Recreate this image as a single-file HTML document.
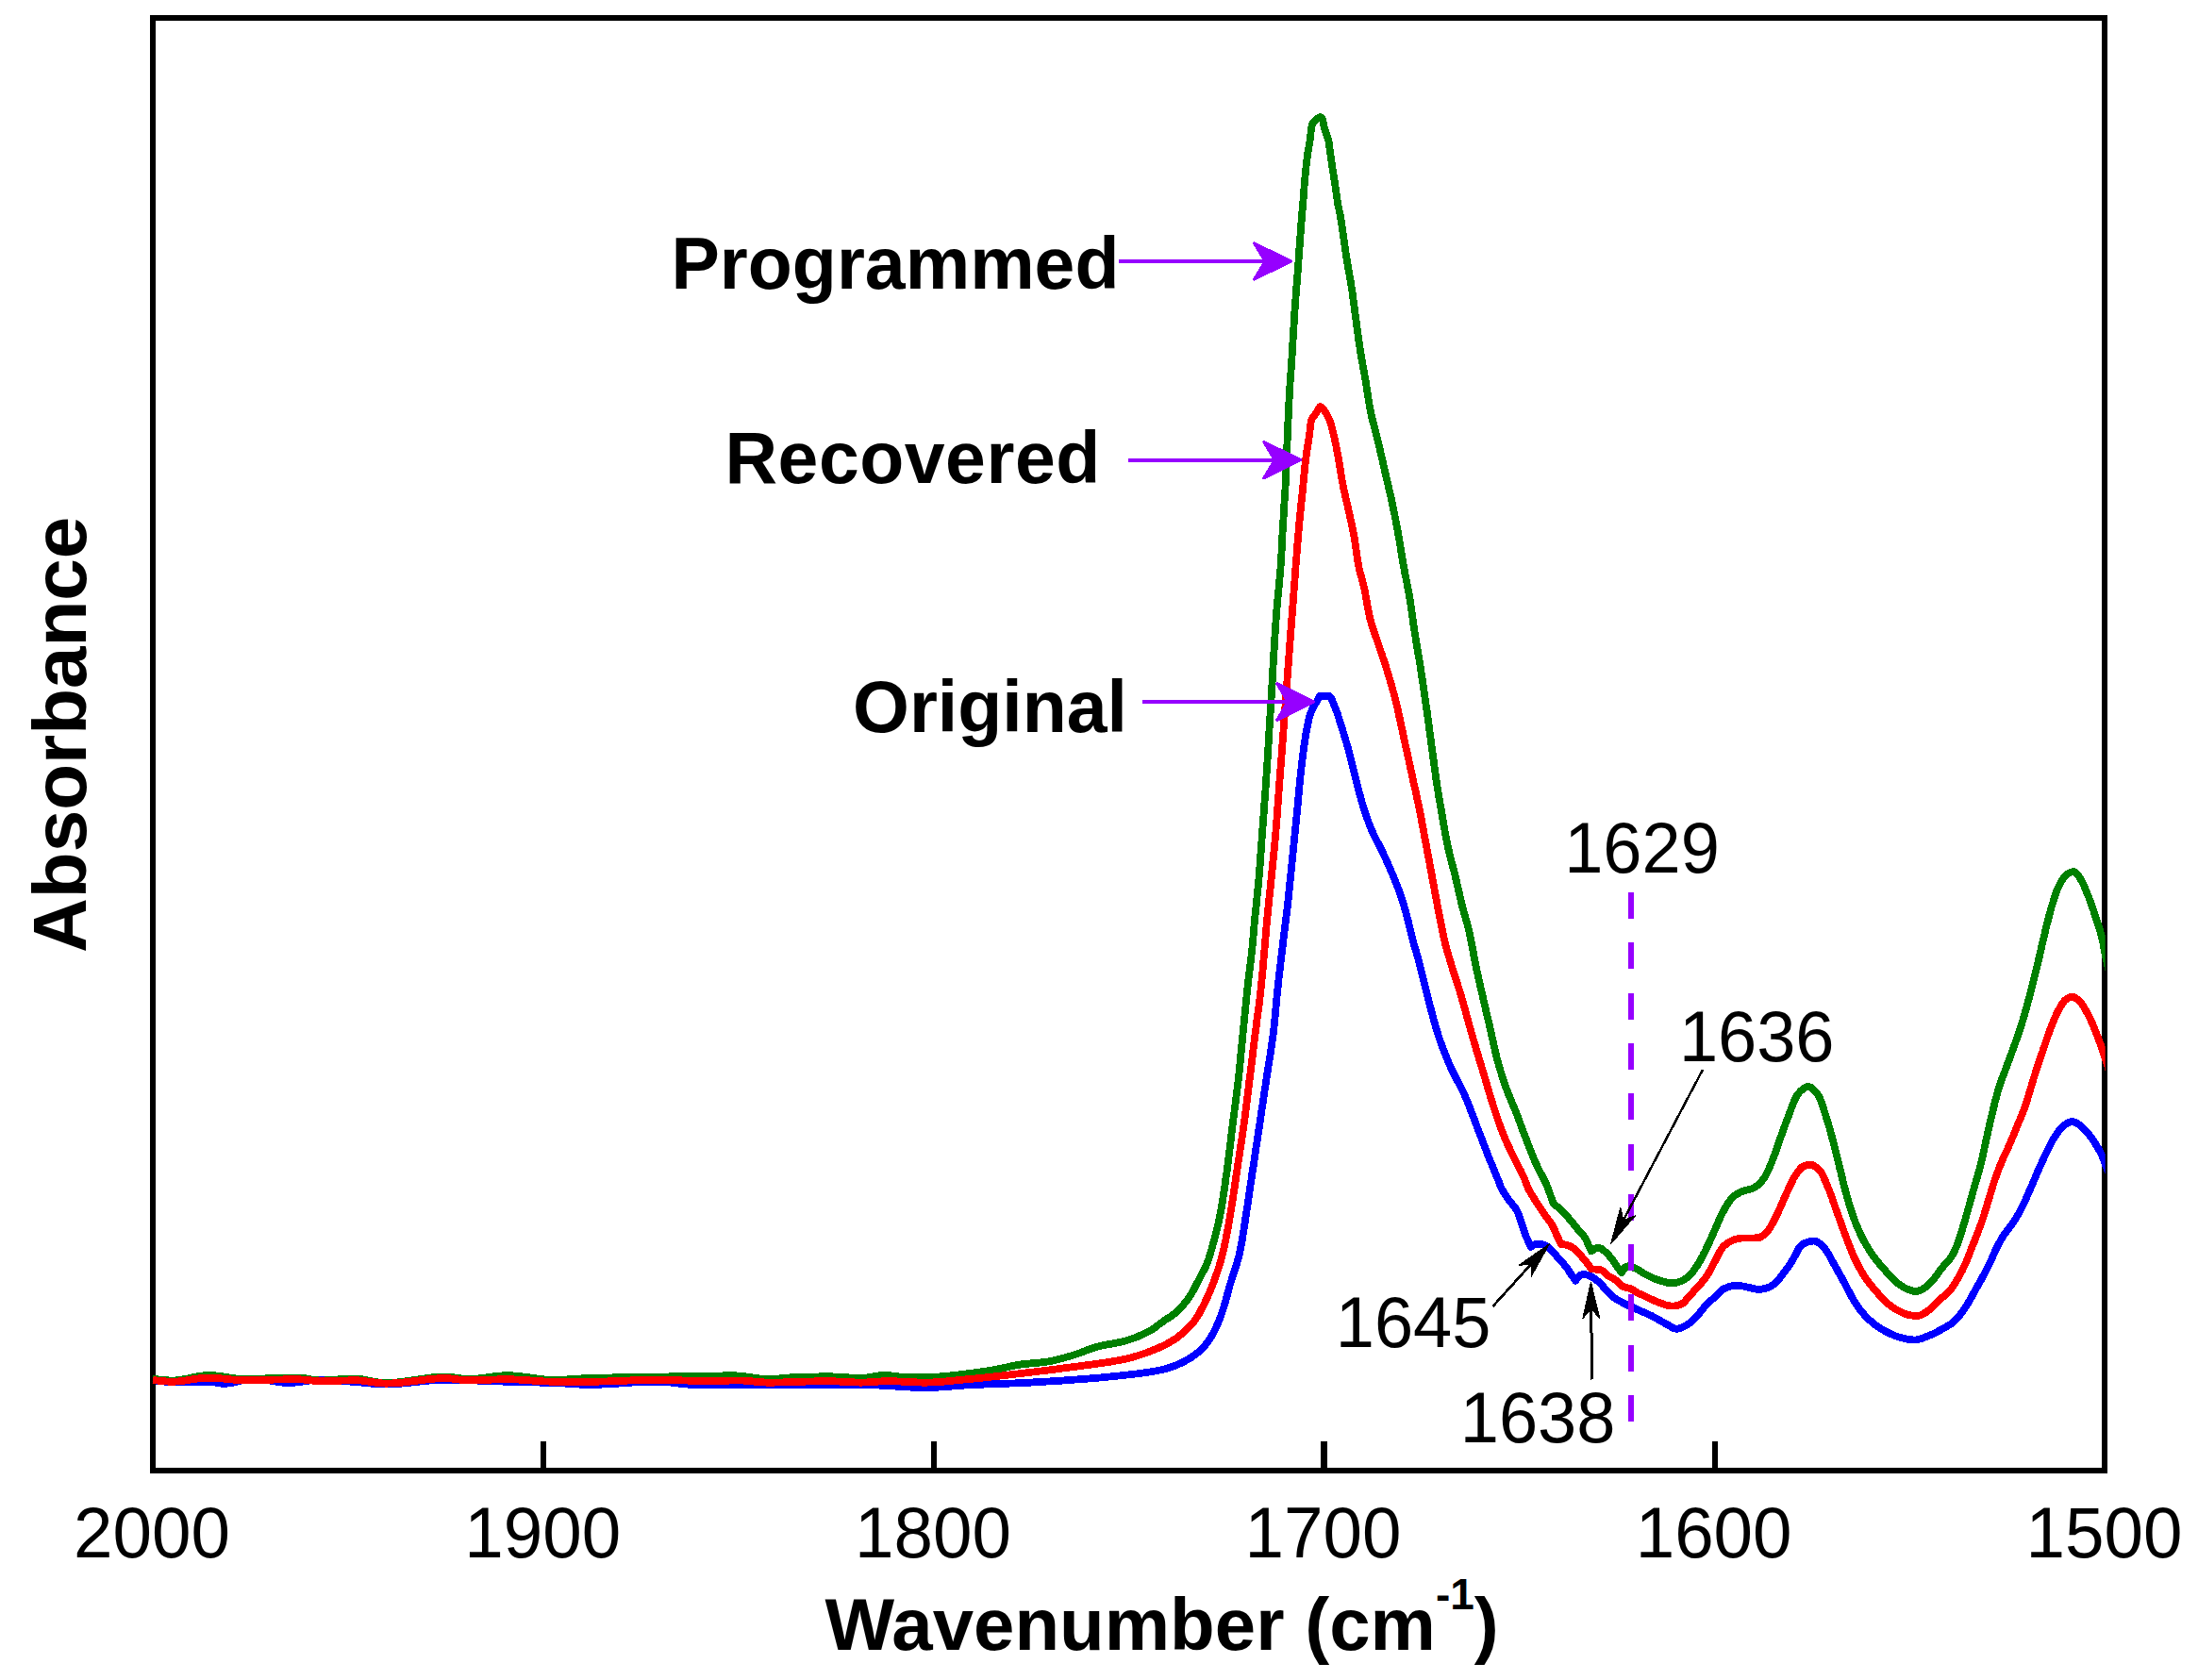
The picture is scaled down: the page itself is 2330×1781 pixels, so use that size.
<!DOCTYPE html>
<html lang="en"><head><meta charset="utf-8"><title>FTIR absorbance spectra</title>
<style>
html,body{margin:0;padding:0;background:#fff;}
body{width:2330px;height:1781px;overflow:hidden;}
svg{display:block;}
text{font-family:"Liberation Sans",Arial,Helvetica,sans-serif;fill:#000;}
.b{font-weight:bold;}
</style></head><body>
<svg width="2330" height="1781" viewBox="0 0 2330 1781" shape-rendering="crispEdges">
<rect width="2330" height="1781" fill="#fff"/>
<g id="axes" stroke="#000" stroke-width="6.2" fill="none">
<rect x="162.3" y="19.0" width="2068.7" height="1540.3"/>
<line x1="576.0" y1="1528" x2="576.0" y2="1558"/>
<line x1="990.0" y1="1528" x2="990.0" y2="1558"/>
<line x1="1403.5" y1="1528" x2="1403.5" y2="1558"/>
<line x1="1817.6" y1="1528" x2="1817.6" y2="1558"/>
</g>
<defs><clipPath id="plot"><rect x="161.8" y="19.0" width="2069.9" height="1540.3"/></clipPath></defs>
<g id="curves" clip-path="url(#plot)" fill="none" stroke-width="7.8" stroke-linejoin="round" stroke-linecap="butt">
<path id="original" stroke="#0000ff" d="M162.0 1463.2L165.0 1463.6L168.0 1463.9L171.0 1464.3L174.0 1464.6L177.0 1464.8L180.0 1464.9L182.9 1465.0L185.9 1465.0L188.9 1465.0L192.0 1464.9L195.0 1464.9L198.0 1464.9L201.0 1464.8L204.0 1464.8L207.0 1464.7L210.0 1464.7L213.0 1464.6L216.0 1464.6L219.0 1464.6L222.0 1464.6L225.0 1464.9L227.9 1465.5L230.9 1466.1L233.9 1466.6L236.9 1466.8L239.8 1466.7L242.8 1466.4L245.8 1465.9L248.7 1465.3L251.7 1464.6L254.6 1463.9L257.6 1463.2L260.6 1462.5L263.5 1462.0L266.5 1461.7L269.5 1461.5L272.4 1461.6L275.4 1461.8L278.4 1462.1L281.4 1462.6L284.4 1463.1L287.3 1463.7L290.3 1464.2L293.3 1464.8L296.3 1465.2L299.3 1465.6L302.2 1465.9L305.2 1466.0L308.2 1465.9L311.2 1465.8L314.2 1465.5L317.2 1465.1L320.2 1464.7L323.1 1464.3L326.1 1463.8L329.1 1463.4L332.1 1463.0L335.1 1462.8L338.1 1462.6L341.1 1462.5L344.1 1462.5L347.1 1462.6L350.1 1462.8L353.1 1463.0L356.1 1463.2L359.1 1463.5L362.1 1463.8L365.1 1464.0L368.1 1464.3L371.1 1464.6L374.0 1464.8L377.0 1465.1L380.0 1465.3L383.0 1465.6L386.0 1465.9L389.0 1466.2L392.0 1466.5L395.0 1466.8L398.0 1467.0L401.0 1467.2L404.0 1467.4L407.0 1467.5L410.0 1467.5L413.0 1467.4L416.0 1467.3L419.0 1467.2L422.0 1467.0L425.0 1466.7L427.9 1466.5L430.9 1466.2L433.9 1465.8L436.9 1465.5L439.9 1465.2L442.9 1464.8L445.9 1464.5L448.9 1464.2L451.9 1463.9L454.9 1463.6L457.9 1463.3L460.9 1463.1L463.9 1462.9L466.9 1462.8L469.9 1462.7L472.9 1462.7L475.9 1462.7L478.9 1462.7L481.9 1462.8L484.9 1462.9L487.9 1462.9L490.9 1463.0L493.9 1463.1L496.9 1463.2L499.9 1463.4L502.9 1463.5L505.9 1463.6L508.9 1463.7L511.9 1463.9L514.9 1464.0L517.9 1464.1L520.9 1464.2L523.9 1464.3L526.9 1464.4L529.9 1464.5L532.9 1464.6L535.9 1464.7L538.9 1464.8L541.9 1464.9L544.9 1464.9L547.9 1465.0L550.9 1465.1L553.9 1465.1L556.9 1465.2L559.9 1465.3L562.9 1465.3L565.9 1465.4L568.9 1465.5L571.9 1465.6L575.0 1465.6L578.0 1465.7L581.0 1465.8L584.0 1465.9L587.0 1466.0L590.0 1466.1L593.0 1466.3L596.0 1466.4L599.0 1466.6L602.0 1466.8L605.0 1467.0L608.0 1467.2L611.0 1467.4L614.0 1467.6L617.0 1467.7L620.0 1467.8L623.0 1467.9L626.0 1467.9L629.0 1467.9L632.0 1467.8L635.0 1467.7L638.0 1467.6L641.0 1467.5L644.0 1467.3L647.0 1467.1L650.0 1467.0L653.0 1466.8L656.0 1466.6L659.0 1466.4L662.0 1466.1L665.0 1465.9L668.0 1465.7L671.0 1465.5L674.0 1465.4L677.0 1465.2L680.0 1465.0L683.0 1464.9L686.0 1464.8L689.0 1464.7L692.0 1464.6L695.0 1464.6L698.0 1464.6L700.9 1464.7L703.9 1464.9L706.9 1465.1L709.9 1465.4L712.9 1465.8L715.9 1466.1L718.9 1466.5L721.9 1466.9L724.9 1467.2L727.9 1467.5L730.9 1467.8L733.9 1468.1L736.9 1468.2L739.9 1468.3L742.9 1468.3L745.9 1468.3L748.9 1468.3L751.9 1468.3L754.9 1468.3L757.9 1468.3L760.9 1468.3L763.9 1468.3L766.9 1468.3L769.9 1468.3L772.9 1468.3L775.9 1468.3L778.9 1468.3L781.9 1468.3L784.9 1468.3L787.9 1468.3L790.9 1468.3L793.9 1468.3L796.9 1468.3L799.9 1468.3L802.9 1468.3L805.9 1468.3L808.9 1468.3L811.9 1468.3L814.9 1468.3L817.9 1468.3L820.9 1468.3L823.9 1468.3L827.0 1468.3L830.0 1468.3L833.0 1468.3L836.0 1468.3L839.0 1468.3L842.0 1468.3L845.0 1468.3L848.0 1468.3L851.0 1468.3L854.0 1468.3L857.0 1468.3L860.0 1468.3L863.0 1468.3L866.0 1468.3L869.0 1468.3L872.0 1468.3L875.0 1468.3L878.0 1468.3L881.0 1468.3L884.0 1468.3L887.0 1468.3L890.0 1468.3L893.0 1468.3L896.0 1468.3L899.0 1468.3L902.0 1468.3L905.0 1468.3L908.0 1468.3L911.0 1468.3L914.1 1468.3L917.1 1468.3L920.1 1468.3L923.1 1468.3L926.1 1468.4L929.1 1468.5L932.1 1468.6L935.1 1468.8L938.1 1468.9L941.1 1469.1L944.1 1469.3L947.1 1469.5L950.1 1469.7L953.1 1469.9L956.1 1470.0L959.1 1470.2L962.1 1470.4L965.1 1470.6L968.1 1470.7L971.1 1470.8L974.1 1470.9L977.1 1471.0L980.1 1471.0L983.1 1471.0L986.1 1470.9L989.1 1470.8L992.1 1470.7L995.1 1470.6L998.1 1470.4L1001.1 1470.2L1004.1 1470.0L1007.1 1469.7L1010.0 1469.5L1013.0 1469.3L1016.0 1469.0L1019.0 1468.8L1022.0 1468.6L1025.0 1468.4L1028.0 1468.3L1031.0 1468.1L1034.0 1468.0L1037.0 1467.9L1040.0 1467.8L1043.0 1467.6L1046.0 1467.5L1049.0 1467.4L1052.0 1467.3L1055.0 1467.2L1058.0 1467.1L1061.1 1467.0L1064.1 1466.9L1067.1 1466.8L1070.1 1466.6L1073.1 1466.5L1076.1 1466.4L1079.1 1466.2L1082.1 1466.1L1085.1 1466.0L1088.1 1465.8L1091.1 1465.7L1094.1 1465.5L1097.1 1465.3L1100.1 1465.2L1103.1 1465.0L1106.0 1464.8L1109.0 1464.6L1112.0 1464.5L1115.0 1464.3L1118.0 1464.1L1121.0 1463.9L1124.0 1463.7L1127.0 1463.5L1130.0 1463.3L1133.0 1463.1L1136.0 1462.9L1139.0 1462.6L1142.0 1462.4L1145.0 1462.2L1148.0 1462.0L1151.0 1461.7L1154.0 1461.5L1157.0 1461.2L1160.0 1461.0L1163.0 1460.7L1166.0 1460.5L1169.0 1460.2L1171.9 1459.9L1174.9 1459.6L1177.9 1459.3L1180.9 1459.0L1183.9 1458.7L1186.9 1458.4L1189.9 1458.1L1192.9 1457.7L1195.8 1457.4L1198.8 1457.1L1201.8 1456.7L1204.8 1456.4L1207.9 1456.0L1210.9 1455.6L1213.8 1455.2L1216.8 1454.7L1219.8 1454.3L1222.8 1453.8L1225.7 1453.3L1228.6 1452.7L1231.5 1452.1L1234.4 1451.4L1237.3 1450.6L1240.2 1449.7L1243.1 1448.7L1245.9 1447.6L1248.7 1446.4L1251.5 1445.2L1254.2 1443.9L1256.9 1442.5L1259.4 1441.1L1261.9 1439.6L1264.4 1437.9L1266.9 1436.1L1269.3 1434.2L1271.6 1432.1L1273.8 1430.0L1275.9 1427.8L1277.9 1425.6L1279.7 1423.3L1281.4 1421.0L1283.0 1418.5L1284.6 1415.9L1286.1 1413.2L1287.5 1410.5L1288.8 1407.7L1290.1 1405.0L1291.3 1402.2L1292.5 1399.5L1293.6 1396.7L1294.6 1393.9L1295.6 1391.0L1296.5 1388.1L1297.4 1385.3L1298.3 1382.4L1299.1 1379.5L1299.9 1376.6L1300.7 1373.7L1301.4 1370.8L1302.2 1367.9L1303.0 1365.0L1303.8 1362.1L1304.7 1359.2L1305.7 1356.4L1306.6 1353.5L1307.5 1350.7L1308.5 1347.8L1309.4 1344.9L1310.3 1342.1L1311.2 1339.2L1312.1 1336.3L1312.8 1333.4L1313.6 1330.5L1314.2 1327.6L1314.8 1324.7L1315.4 1321.8L1316.0 1318.8L1316.5 1315.9L1317.0 1312.9L1317.5 1309.9L1317.9 1307.0L1318.4 1304.0L1318.9 1301.0L1319.3 1298.0L1319.8 1295.1L1320.2 1292.1L1320.7 1289.1L1321.1 1286.1L1321.6 1283.2L1322.1 1280.2L1322.5 1277.2L1323.0 1274.3L1323.4 1271.3L1323.9 1268.3L1324.3 1265.3L1324.7 1262.4L1325.2 1259.4L1325.6 1256.4L1326.0 1253.5L1326.5 1250.5L1326.9 1247.5L1327.3 1244.5L1327.8 1241.6L1328.2 1238.6L1328.7 1235.6L1329.1 1232.7L1329.6 1229.7L1330.0 1226.7L1330.5 1223.8L1330.9 1220.8L1331.4 1217.8L1331.8 1214.8L1332.3 1211.9L1332.7 1208.9L1333.2 1205.9L1333.6 1203.0L1334.1 1200.0L1334.5 1197.0L1335.0 1194.1L1335.4 1191.1L1335.9 1188.1L1336.3 1185.2L1336.7 1182.2L1337.2 1179.2L1337.6 1176.2L1338.1 1173.3L1338.5 1170.3L1339.0 1167.3L1339.4 1164.4L1339.8 1161.4L1340.3 1158.4L1340.7 1155.4L1341.2 1152.5L1341.6 1149.5L1342.1 1146.5L1342.5 1143.6L1342.9 1140.6L1343.4 1137.6L1343.9 1134.7L1344.3 1131.7L1344.8 1128.7L1345.3 1125.8L1345.8 1122.8L1346.3 1119.8L1346.7 1116.9L1347.2 1113.9L1347.6 1110.9L1348.1 1107.9L1348.5 1105.0L1348.9 1102.0L1349.3 1099.0L1349.7 1096.1L1350.0 1093.1L1350.4 1090.1L1350.7 1087.1L1351.0 1084.1L1351.3 1081.1L1351.6 1078.1L1351.9 1075.1L1352.2 1072.2L1352.4 1069.2L1352.7 1066.2L1353.0 1063.2L1353.3 1060.2L1353.5 1057.2L1353.8 1054.2L1354.1 1051.2L1354.4 1048.2L1354.8 1045.2L1355.1 1042.3L1355.4 1039.3L1355.7 1036.3L1356.1 1033.3L1356.4 1030.3L1356.8 1027.3L1357.1 1024.4L1357.5 1021.4L1357.8 1018.4L1358.2 1015.4L1358.5 1012.4L1358.9 1009.4L1359.2 1006.5L1359.6 1003.5L1359.9 1000.5L1360.3 997.5L1360.7 994.5L1361.0 991.5L1361.4 988.6L1361.8 985.6L1362.1 982.6L1362.5 979.6L1362.9 976.6L1363.2 973.7L1363.6 970.7L1364.0 967.7L1364.3 964.7L1364.7 961.7L1365.0 958.8L1365.3 955.8L1365.7 952.8L1366.0 949.8L1366.3 946.8L1366.6 943.8L1366.9 940.8L1367.2 937.8L1367.5 934.9L1367.8 931.9L1368.1 928.9L1368.4 925.9L1368.7 922.9L1369.0 919.9L1369.3 916.9L1369.6 913.9L1369.9 910.9L1370.2 908.0L1370.5 905.0L1370.8 902.0L1371.1 899.0L1371.4 896.0L1371.7 893.0L1372.0 890.0L1372.3 887.0L1372.6 884.1L1372.9 881.1L1373.2 878.1L1373.5 875.1L1373.8 872.1L1374.1 869.1L1374.4 866.1L1374.7 863.1L1375.0 860.1L1375.3 857.2L1375.6 854.2L1375.8 851.2L1376.1 848.2L1376.4 845.2L1376.7 842.2L1377.0 839.2L1377.2 836.2L1377.5 833.2L1377.8 830.2L1378.1 827.3L1378.4 824.3L1378.7 821.3L1379.1 818.3L1379.4 815.3L1379.7 812.3L1380.1 809.3L1380.4 806.4L1380.8 803.4L1381.2 800.4L1381.5 797.4L1381.9 794.4L1382.3 791.4L1382.8 788.5L1383.2 785.5L1383.7 782.5L1384.1 779.6L1384.6 776.6L1385.2 773.6L1385.7 770.7L1386.3 767.7L1386.9 764.7L1387.6 761.8L1388.4 759.0L1389.3 756.2L1390.4 753.4L1391.7 750.7L1393.2 748.0L1394.7 745.4L1396.3 742.8L1397.8 739.7L1399.6 737.6L1402.4 737.6L1405.8 737.6L1408.4 737.6L1410.2 738.8L1411.8 741.4L1413.2 744.8L1414.5 748.2L1415.6 751.0L1416.7 753.8L1417.8 756.6L1418.7 759.5L1419.6 762.4L1420.5 765.3L1421.4 768.1L1422.3 771.0L1423.2 773.9L1424.1 776.7L1425.0 779.6L1425.8 782.5L1426.7 785.4L1427.5 788.3L1428.4 791.1L1429.2 794.0L1430.0 796.9L1430.7 799.8L1431.5 802.7L1432.2 805.7L1432.9 808.6L1433.6 811.5L1434.3 814.4L1435.1 817.3L1435.8 820.2L1436.5 823.2L1437.3 826.1L1438.0 829.0L1438.8 831.9L1439.5 834.8L1440.2 837.7L1441.0 840.6L1441.8 843.5L1442.6 846.4L1443.4 849.3L1444.2 852.2L1445.1 855.1L1446.0 857.9L1446.9 860.8L1447.9 863.6L1448.9 866.5L1449.9 869.3L1450.9 872.1L1452.0 874.9L1453.1 877.7L1454.3 880.5L1455.5 883.2L1456.8 885.9L1458.1 888.6L1459.5 891.3L1460.9 893.9L1462.3 896.6L1463.7 899.3L1465.0 902.0L1466.3 904.7L1467.5 907.4L1468.8 910.2L1470.0 912.9L1471.3 915.6L1472.5 918.4L1473.7 921.1L1474.8 923.9L1476.0 926.7L1477.2 929.4L1478.4 932.2L1479.5 935.0L1480.6 937.8L1481.7 940.6L1482.8 943.4L1483.8 946.2L1484.8 949.0L1485.7 951.9L1486.6 954.7L1487.5 957.6L1488.3 960.5L1489.2 963.4L1490.0 966.3L1490.8 969.2L1491.6 972.1L1492.4 975.0L1493.1 977.9L1493.8 980.8L1494.5 983.7L1495.2 986.6L1496.0 989.6L1496.7 992.5L1497.4 995.4L1498.1 998.3L1498.9 1001.2L1499.7 1004.1L1500.6 1007.0L1501.4 1009.9L1502.3 1012.7L1503.1 1015.6L1503.9 1018.5L1504.7 1021.4L1505.4 1024.3L1506.2 1027.2L1506.9 1030.2L1507.6 1033.1L1508.3 1036.0L1509.0 1038.9L1509.7 1041.8L1510.4 1044.8L1511.1 1047.7L1511.9 1050.6L1512.6 1053.5L1513.3 1056.4L1514.1 1059.3L1514.8 1062.2L1515.6 1065.1L1516.4 1068.0L1517.1 1070.9L1517.9 1073.9L1518.7 1076.8L1519.5 1079.7L1520.3 1082.6L1521.1 1085.5L1521.9 1088.3L1522.8 1091.2L1523.6 1094.1L1524.5 1096.9L1525.5 1099.8L1526.4 1102.6L1527.4 1105.5L1528.4 1108.3L1529.5 1111.1L1530.5 1113.9L1531.6 1116.7L1532.7 1119.5L1533.9 1122.3L1535.0 1125.1L1536.2 1127.9L1537.4 1130.6L1538.6 1133.3L1539.9 1136.0L1541.3 1138.7L1542.6 1141.4L1544.1 1144.1L1545.5 1146.7L1546.9 1149.4L1548.3 1152.0L1549.6 1154.7L1550.9 1157.4L1552.2 1160.1L1553.4 1162.9L1554.6 1165.6L1555.7 1168.4L1556.9 1171.2L1558.0 1174.0L1559.0 1176.8L1560.1 1179.6L1561.2 1182.4L1562.2 1185.2L1563.3 1188.0L1564.4 1190.8L1565.4 1193.7L1566.5 1196.5L1567.6 1199.3L1568.7 1202.1L1569.8 1204.9L1570.8 1207.7L1571.9 1210.5L1573.0 1213.3L1574.0 1216.1L1575.1 1218.9L1576.2 1221.7L1577.3 1224.5L1578.4 1227.3L1579.5 1230.1L1580.7 1232.8L1581.8 1235.6L1583.0 1238.4L1584.1 1241.2L1585.2 1244.0L1586.4 1246.7L1587.5 1249.5L1588.7 1252.3L1589.7 1255.1L1590.8 1257.9L1592.1 1260.6L1593.6 1263.2L1595.2 1265.7L1596.9 1268.2L1598.6 1270.7L1600.3 1273.2L1602.2 1275.6L1604.2 1277.9L1606.0 1280.3L1607.7 1282.7L1609.0 1285.4L1610.1 1288.1L1611.0 1291.0L1612.0 1293.9L1612.9 1296.8L1613.9 1299.6L1614.8 1302.5L1615.7 1305.3L1616.7 1308.2L1617.8 1311.0L1619.0 1313.7L1620.2 1316.5L1621.5 1319.2L1622.8 1321.9L1625.6 1320.0L1628.5 1318.9L1631.5 1318.8L1634.6 1319.3L1637.6 1320.2L1640.2 1321.7L1642.7 1323.8L1645.0 1325.9L1647.2 1328.1L1649.2 1330.5L1651.2 1333.0L1653.3 1335.3L1655.5 1337.6L1657.6 1339.9L1659.5 1342.3L1661.4 1344.8L1663.1 1347.4L1664.8 1350.0L1666.6 1352.6L1668.4 1355.2L1670.1 1357.8L1672.2 1354.7L1674.4 1352.4L1676.9 1351.2L1679.6 1351.1L1682.6 1351.7L1685.4 1352.7L1688.1 1354.0L1690.6 1355.8L1693.0 1357.6L1695.3 1359.5L1697.4 1361.7L1699.4 1363.9L1701.5 1366.1L1703.6 1368.3L1705.7 1370.5L1707.8 1372.7L1709.9 1374.7L1712.3 1376.5L1714.8 1378.1L1717.5 1379.6L1720.1 1381.0L1722.8 1382.4L1725.5 1383.7L1728.3 1384.9L1731.0 1386.1L1733.7 1387.4L1736.5 1388.6L1739.2 1389.8L1742.0 1391.0L1744.7 1392.2L1747.5 1393.4L1750.2 1394.7L1752.9 1396.1L1755.5 1397.5L1758.1 1399.0L1760.7 1400.5L1763.3 1402.0L1765.9 1403.5L1768.6 1404.9L1771.3 1406.5L1774.0 1408.0L1776.8 1408.8L1779.7 1408.5L1782.6 1407.5L1785.4 1406.1L1787.9 1404.7L1790.4 1403.1L1792.7 1401.1L1794.9 1399.0L1797.1 1396.8L1799.2 1394.6L1801.3 1392.5L1803.2 1390.1L1805.0 1387.8L1806.9 1385.4L1808.9 1383.1L1811.0 1381.0L1813.2 1379.0L1815.5 1377.1L1817.8 1375.1L1820.0 1373.0L1822.1 1370.7L1824.3 1368.6L1826.6 1366.8L1829.2 1365.5L1832.0 1364.2L1835.0 1363.4L1837.9 1363.3L1840.9 1363.3L1844.0 1363.3L1846.9 1363.4L1849.9 1363.9L1852.8 1364.7L1855.8 1365.3L1858.7 1366.1L1861.7 1366.7L1864.6 1366.9L1867.7 1366.6L1870.7 1366.0L1873.5 1365.3L1876.2 1364.1L1878.8 1362.5L1881.3 1360.6L1883.5 1358.7L1885.5 1356.5L1887.4 1354.1L1889.2 1351.7L1891.0 1349.3L1892.8 1346.9L1894.6 1344.4L1896.3 1341.9L1898.0 1339.5L1899.6 1336.9L1901.2 1334.3L1902.7 1331.5L1904.2 1328.5L1905.6 1325.6L1907.2 1322.9L1908.9 1320.7L1910.8 1319.1L1913.3 1317.9L1916.2 1316.8L1919.4 1315.9L1922.3 1315.5L1925.1 1315.9L1927.8 1317.4L1930.3 1319.5L1932.5 1321.5L1934.4 1323.6L1936.2 1326.0L1937.8 1328.5L1939.3 1331.2L1940.8 1334.0L1942.2 1336.7L1943.7 1339.4L1945.2 1342.0L1946.7 1344.6L1948.1 1347.2L1949.6 1349.9L1951.0 1352.5L1952.5 1355.1L1953.9 1357.8L1955.4 1360.4L1956.8 1363.0L1958.2 1365.7L1959.6 1368.4L1961.0 1371.1L1962.4 1373.7L1963.9 1376.4L1965.4 1379.0L1966.9 1381.5L1968.6 1384.0L1970.3 1386.4L1972.1 1388.8L1974.0 1391.2L1976.0 1393.5L1978.0 1395.8L1980.2 1397.9L1982.3 1399.9L1984.6 1401.8L1986.9 1403.7L1989.3 1405.5L1991.8 1407.2L1994.4 1408.9L1997.0 1410.4L1999.6 1411.8L2002.3 1413.2L2005.0 1414.4L2007.8 1415.7L2010.7 1416.8L2013.5 1417.7L2016.4 1418.4L2019.3 1419.1L2022.3 1419.7L2025.3 1420.2L2028.3 1420.5L2031.2 1420.4L2034.1 1419.8L2037.1 1418.9L2039.9 1417.9L2042.8 1416.8L2045.5 1415.7L2048.3 1414.5L2051.0 1413.2L2053.7 1411.8L2056.3 1410.3L2058.9 1408.8L2061.6 1407.4L2064.2 1405.9L2066.9 1404.3L2069.3 1402.7L2071.6 1400.8L2073.7 1398.8L2075.7 1396.5L2077.6 1394.1L2079.5 1391.7L2081.2 1389.3L2082.9 1386.8L2084.5 1384.2L2086.1 1381.7L2087.6 1379.1L2089.1 1376.5L2090.6 1373.9L2092.0 1371.2L2093.4 1368.6L2094.8 1365.9L2096.3 1363.3L2097.8 1360.7L2099.3 1358.1L2100.8 1355.5L2102.2 1352.8L2103.6 1350.2L2105.0 1347.5L2106.4 1344.9L2107.7 1342.2L2109.1 1339.5L2110.3 1336.8L2111.6 1334.0L2112.7 1331.2L2113.9 1328.5L2115.2 1325.7L2116.5 1323.0L2117.8 1320.4L2119.2 1317.7L2120.7 1315.1L2122.2 1312.5L2123.8 1309.9L2125.5 1307.5L2127.3 1305.1L2129.2 1302.7L2131.0 1300.3L2132.8 1297.9L2134.5 1295.4L2136.1 1292.9L2137.7 1290.3L2139.2 1287.7L2140.7 1285.1L2142.1 1282.5L2143.5 1279.8L2144.8 1277.1L2146.1 1274.4L2147.3 1271.7L2148.5 1268.9L2149.7 1266.2L2150.9 1263.4L2152.1 1260.7L2153.3 1257.9L2154.5 1255.1L2155.7 1252.4L2156.9 1249.6L2158.0 1246.8L2159.2 1244.1L2160.4 1241.3L2161.6 1238.6L2162.8 1235.8L2164.1 1233.1L2165.3 1230.4L2166.6 1227.6L2167.9 1224.9L2169.2 1222.2L2170.5 1219.5L2171.8 1216.8L2173.2 1214.1L2174.6 1211.4L2176.0 1208.8L2177.5 1206.2L2179.1 1203.7L2180.8 1201.2L2182.7 1198.7L2184.6 1196.3L2186.7 1194.1L2189.0 1192.3L2191.5 1190.7L2194.4 1189.4L2197.2 1189.0L2200.0 1189.9L2202.7 1191.5L2205.2 1193.3L2207.5 1195.1L2209.7 1197.3L2211.7 1199.5L2213.7 1201.8L2215.5 1204.2L2217.3 1206.6L2219.0 1209.1L2220.7 1211.6L2222.2 1214.2L2223.8 1216.8L2225.3 1219.4L2226.7 1222.0L2228.0 1224.7L2229.2 1227.5L2230.3 1230.3L2231.3 1233.1L2232.3 1235.9L2233.5 1238.7L2234.6 1241.5L2235.8 1244.2L2237.0 1247.0"/>
<path id="programmed" stroke="#008000" d="M162.0 1461.5L165.0 1462.0L168.0 1462.4L171.0 1462.8L174.0 1463.1L177.0 1463.3L179.9 1463.5L182.9 1463.5L185.9 1463.4L188.9 1463.1L191.8 1462.7L194.8 1462.2L197.8 1461.7L200.7 1461.0L203.7 1460.4L206.7 1459.8L209.6 1459.2L212.6 1458.7L215.6 1458.3L218.6 1458.1L221.5 1458.0L224.5 1458.1L227.5 1458.3L230.5 1458.6L233.5 1459.0L236.4 1459.4L239.4 1459.9L242.4 1460.4L245.4 1460.8L248.4 1461.2L251.4 1461.6L254.4 1461.8L257.3 1462.0L260.3 1462.0L263.3 1462.0L266.3 1461.9L269.3 1461.9L272.3 1461.8L275.3 1461.7L278.3 1461.5L281.3 1461.4L284.3 1461.3L287.4 1461.2L290.4 1461.0L293.4 1460.9L296.4 1460.8L299.4 1460.7L302.4 1460.6L305.4 1460.5L308.4 1460.4L311.4 1460.4L314.3 1460.4L317.3 1460.5L320.3 1460.8L323.3 1461.2L326.3 1461.7L329.3 1462.3L332.2 1462.7L335.2 1463.1L338.2 1463.4L341.2 1463.5L344.2 1463.4L347.2 1463.3L350.2 1463.1L353.2 1462.9L356.2 1462.6L359.2 1462.3L362.2 1462.1L365.2 1461.9L368.2 1461.7L371.1 1461.5L374.1 1461.5L377.1 1461.6L380.1 1461.9L383.1 1462.2L386.1 1462.7L389.0 1463.3L392.0 1463.8L395.0 1464.4L398.0 1464.9L400.9 1465.4L403.9 1465.7L406.9 1466.0L409.9 1466.0L412.8 1465.9L415.8 1465.8L418.8 1465.6L421.8 1465.3L424.8 1465.0L427.8 1464.6L430.7 1464.2L433.7 1463.8L436.7 1463.4L439.7 1462.9L442.7 1462.5L445.7 1462.0L448.7 1461.6L451.7 1461.2L454.6 1460.8L457.6 1460.4L460.6 1460.2L463.6 1459.9L466.6 1459.7L469.6 1459.6L472.6 1459.6L475.6 1459.7L478.5 1460.0L481.5 1460.4L484.5 1460.8L487.5 1461.2L490.5 1461.6L493.5 1461.9L496.5 1462.0L499.5 1462.0L502.4 1461.8L505.4 1461.6L508.4 1461.3L511.4 1460.9L514.4 1460.5L517.4 1460.1L520.4 1459.7L523.4 1459.3L526.4 1458.9L529.3 1458.6L532.3 1458.4L535.3 1458.2L538.3 1458.2L541.3 1458.3L544.3 1458.4L547.3 1458.6L550.3 1458.9L553.2 1459.3L556.2 1459.7L559.2 1460.1L562.2 1460.5L565.2 1460.9L568.2 1461.4L571.2 1461.7L574.2 1462.1L577.1 1462.4L580.1 1462.6L583.1 1462.8L586.1 1462.9L589.1 1462.9L592.1 1462.8L595.1 1462.7L598.1 1462.6L601.1 1462.4L604.1 1462.2L607.1 1462.0L610.1 1461.8L613.1 1461.6L616.1 1461.4L619.1 1461.2L622.1 1461.1L625.1 1461.0L628.1 1460.9L631.1 1460.8L634.1 1460.8L637.1 1460.7L640.1 1460.6L643.1 1460.5L646.1 1460.5L649.1 1460.4L652.1 1460.3L655.1 1460.3L658.1 1460.2L661.1 1460.2L664.1 1460.1L667.1 1460.1L670.1 1460.0L673.1 1460.0L676.1 1459.9L679.1 1459.9L682.1 1459.8L685.1 1459.8L688.1 1459.7L691.1 1459.7L694.1 1459.6L697.1 1459.6L700.1 1459.5L703.1 1459.5L706.1 1459.4L709.1 1459.4L712.1 1459.3L715.1 1459.3L718.1 1459.3L721.1 1459.2L724.1 1459.2L727.1 1459.1L730.1 1459.1L733.1 1459.1L736.1 1459.0L739.1 1459.0L742.1 1458.9L745.1 1458.9L748.1 1458.8L751.1 1458.8L754.1 1458.7L757.1 1458.6L760.1 1458.6L763.1 1458.5L766.1 1458.4L769.1 1458.3L772.1 1458.2L775.1 1458.2L778.1 1458.2L781.1 1458.4L784.1 1458.6L787.1 1458.9L790.1 1459.3L793.1 1459.7L796.0 1460.2L799.0 1460.6L802.0 1461.0L805.0 1461.4L808.0 1461.7L811.0 1461.9L814.0 1462.0L816.9 1462.0L819.9 1461.8L822.9 1461.6L825.9 1461.4L828.9 1461.1L831.9 1460.8L834.9 1460.6L837.9 1460.3L840.9 1460.1L843.9 1460.0L846.9 1459.9L849.9 1459.8L852.9 1459.7L855.9 1459.6L858.9 1459.6L861.9 1459.5L864.9 1459.4L867.9 1459.4L870.9 1459.3L873.9 1459.3L876.9 1459.3L879.9 1459.3L882.9 1459.4L885.9 1459.5L888.9 1459.7L891.9 1459.9L894.9 1460.1L897.9 1460.3L900.9 1460.5L903.9 1460.6L906.9 1460.8L909.9 1460.9L912.9 1460.9L915.9 1460.8L918.9 1460.5L921.8 1460.0L924.8 1459.5L927.8 1458.9L930.8 1458.5L933.7 1458.1L936.7 1457.9L939.7 1458.0L942.7 1458.2L945.7 1458.5L948.7 1458.9L951.7 1459.3L954.7 1459.6L957.6 1459.9L960.6 1460.1L963.6 1460.1L966.6 1460.1L969.6 1460.1L972.6 1460.1L975.6 1460.1L978.6 1460.1L981.6 1460.1L984.6 1460.1L987.6 1460.0L990.6 1459.8L993.6 1459.7L996.6 1459.4L999.6 1459.2L1002.6 1458.9L1005.6 1458.6L1008.6 1458.3L1011.6 1457.9L1014.6 1457.6L1017.5 1457.2L1020.5 1456.8L1023.5 1456.5L1026.5 1456.1L1029.5 1455.8L1032.4 1455.4L1035.4 1455.0L1038.4 1454.6L1041.4 1454.1L1044.3 1453.7L1047.3 1453.2L1050.3 1452.7L1053.2 1452.2L1056.2 1451.7L1059.1 1451.1L1062.1 1450.5L1065.0 1449.9L1067.9 1449.2L1070.9 1448.6L1073.8 1448.0L1076.8 1447.4L1079.7 1446.9L1082.7 1446.4L1085.6 1446.1L1088.6 1445.8L1091.6 1445.5L1094.6 1445.2L1097.6 1445.0L1100.6 1444.7L1103.6 1444.4L1106.6 1444.1L1109.5 1443.7L1112.5 1443.2L1115.4 1442.6L1118.4 1442.0L1121.3 1441.3L1124.2 1440.5L1127.1 1439.7L1130.0 1438.9L1132.9 1438.0L1135.8 1437.2L1138.6 1436.3L1141.5 1435.4L1144.3 1434.4L1147.1 1433.3L1149.9 1432.2L1152.8 1431.1L1155.6 1430.1L1158.4 1429.1L1161.3 1428.2L1164.1 1427.4L1167.0 1426.7L1170.0 1426.1L1172.9 1425.5L1175.9 1425.0L1178.9 1424.5L1181.9 1424.0L1184.8 1423.4L1187.7 1422.8L1190.6 1422.1L1193.5 1421.3L1196.4 1420.4L1199.2 1419.5L1202.1 1418.5L1204.9 1417.4L1207.7 1416.2L1210.5 1415.0L1213.2 1413.8L1215.9 1412.4L1218.5 1411.1L1221.1 1409.6L1223.5 1407.9L1226.0 1406.1L1228.4 1404.2L1230.8 1402.4L1233.2 1400.7L1235.7 1399.0L1238.3 1397.3L1240.8 1395.7L1243.3 1394.0L1245.6 1392.2L1247.8 1390.2L1250.0 1388.2L1252.1 1386.0L1254.1 1383.7L1256.0 1381.4L1257.9 1379.0L1259.7 1376.5L1261.4 1374.1L1263.0 1371.6L1264.4 1369.0L1265.8 1366.3L1267.1 1363.6L1268.5 1360.9L1270.0 1358.3L1271.4 1355.6L1272.8 1353.0L1274.2 1350.3L1275.6 1347.6L1277.0 1345.0L1278.3 1342.3L1279.5 1339.5L1280.6 1336.7L1281.5 1333.9L1282.4 1331.0L1283.2 1328.1L1284.1 1325.2L1284.9 1322.4L1285.7 1319.5L1286.5 1316.6L1287.3 1313.7L1288.0 1310.8L1288.8 1307.8L1289.5 1304.9L1290.3 1302.0L1291.0 1299.1L1291.6 1296.2L1292.3 1293.2L1292.9 1290.3L1293.5 1287.4L1294.0 1284.4L1294.6 1281.5L1295.1 1278.5L1295.6 1275.6L1296.1 1272.6L1296.5 1269.7L1297.0 1266.7L1297.4 1263.7L1297.9 1260.7L1298.3 1257.8L1298.7 1254.8L1299.1 1251.8L1299.5 1248.8L1299.9 1245.9L1300.4 1242.9L1300.8 1239.9L1301.2 1236.9L1301.6 1234.0L1301.9 1231.0L1302.3 1228.0L1302.7 1225.0L1303.1 1222.0L1303.4 1219.1L1303.8 1216.1L1304.2 1213.1L1304.5 1210.1L1304.9 1207.1L1305.2 1204.2L1305.6 1201.2L1306.0 1198.2L1306.3 1195.2L1306.7 1192.2L1307.1 1189.3L1307.4 1186.3L1307.8 1183.3L1308.2 1180.3L1308.6 1177.4L1309.0 1174.4L1309.4 1171.4L1309.8 1168.4L1310.1 1165.5L1310.5 1162.5L1310.9 1159.5L1311.3 1156.5L1311.7 1153.5L1312.0 1150.6L1312.4 1147.6L1312.7 1144.6L1313.0 1141.6L1313.4 1138.6L1313.7 1135.7L1314.0 1132.7L1314.3 1129.7L1314.6 1126.7L1314.9 1123.7L1315.2 1120.7L1315.4 1117.7L1315.7 1114.7L1316.0 1111.8L1316.3 1108.8L1316.6 1105.8L1316.9 1102.8L1317.1 1099.8L1317.4 1096.8L1317.7 1093.8L1318.0 1090.8L1318.3 1087.9L1318.6 1084.9L1318.9 1081.9L1319.2 1078.9L1319.5 1075.9L1319.8 1072.9L1320.1 1069.9L1320.4 1066.9L1320.7 1064.0L1321.0 1061.0L1321.3 1058.0L1321.6 1055.0L1321.9 1052.0L1322.2 1049.0L1322.6 1046.1L1322.9 1043.1L1323.2 1040.1L1323.6 1037.1L1324.0 1034.1L1324.3 1031.1L1324.7 1028.2L1325.1 1025.2L1325.4 1022.2L1325.8 1019.2L1326.1 1016.2L1326.5 1013.3L1326.8 1010.3L1327.2 1007.3L1327.5 1004.3L1327.8 1001.3L1328.1 998.3L1328.3 995.4L1328.6 992.4L1328.8 989.4L1329.0 986.4L1329.3 983.4L1329.6 980.4L1329.8 977.4L1330.1 974.4L1330.4 971.4L1330.7 968.5L1331.0 965.5L1331.4 962.5L1331.7 959.5L1332.0 956.5L1332.3 953.5L1332.6 950.5L1332.9 947.6L1333.2 944.6L1333.5 941.6L1333.8 938.6L1334.1 935.6L1334.4 932.6L1334.6 929.6L1334.9 926.6L1335.1 923.6L1335.3 920.7L1335.6 917.7L1335.8 914.7L1336.0 911.7L1336.2 908.7L1336.4 905.7L1336.7 902.7L1336.9 899.7L1337.1 896.7L1337.3 893.7L1337.5 890.7L1337.7 887.7L1338.0 884.7L1338.2 881.7L1338.4 878.7L1338.6 875.8L1338.9 872.8L1339.1 869.8L1339.3 866.8L1339.5 863.8L1339.8 860.8L1340.0 857.8L1340.2 854.8L1340.4 851.8L1340.6 848.8L1340.9 845.8L1341.1 842.8L1341.3 839.8L1341.5 836.8L1341.7 833.8L1341.9 830.8L1342.1 827.9L1342.3 824.9L1342.5 821.9L1342.7 818.9L1342.9 815.9L1343.1 812.9L1343.3 809.9L1343.5 806.9L1343.7 803.9L1343.8 800.9L1344.0 797.9L1344.2 794.9L1344.4 791.9L1344.6 788.9L1344.8 785.9L1345.0 782.9L1345.2 779.9L1345.3 776.9L1345.5 773.9L1345.7 770.9L1345.9 767.9L1346.1 764.9L1346.3 762.0L1346.4 759.0L1346.6 756.0L1346.8 753.0L1347.0 750.0L1347.2 747.0L1347.3 744.0L1347.5 741.0L1347.7 738.0L1347.9 735.0L1348.0 732.0L1348.2 729.0L1348.4 726.0L1348.6 723.0L1348.7 720.0L1348.9 717.0L1349.1 714.0L1349.3 711.0L1349.4 708.0L1349.6 705.0L1349.8 702.0L1350.0 699.0L1350.1 696.0L1350.3 693.0L1350.5 690.0L1350.7 687.0L1350.9 684.1L1351.1 681.1L1351.3 678.1L1351.4 675.1L1351.6 672.1L1351.8 669.1L1352.0 666.1L1352.2 663.1L1352.4 660.1L1352.6 657.1L1352.8 654.1L1353.0 651.1L1353.3 648.1L1353.5 645.1L1353.7 642.1L1354.0 639.1L1354.3 636.2L1354.6 633.2L1354.9 630.2L1355.2 627.2L1355.5 624.2L1355.7 621.2L1356.0 618.2L1356.3 615.2L1356.6 612.2L1356.9 609.3L1357.1 606.3L1357.4 603.3L1357.6 600.3L1357.8 597.3L1358.0 594.3L1358.2 591.3L1358.3 588.3L1358.5 585.3L1358.7 582.3L1358.8 579.3L1359.0 576.3L1359.1 573.3L1359.3 570.3L1359.4 567.3L1359.6 564.3L1359.8 561.3L1359.9 558.3L1360.1 555.3L1360.3 552.3L1360.5 549.3L1360.7 546.3L1360.9 543.4L1361.0 540.4L1361.2 537.4L1361.4 534.4L1361.6 531.4L1361.8 528.4L1362.0 525.4L1362.2 522.4L1362.4 519.4L1362.5 516.4L1362.7 513.4L1362.9 510.4L1363.0 507.4L1363.1 504.4L1363.3 501.4L1363.4 498.4L1363.5 495.4L1363.6 492.4L1363.7 489.4L1363.9 486.4L1364.0 483.4L1364.1 480.4L1364.2 477.4L1364.3 474.4L1364.4 471.4L1364.5 468.4L1364.7 465.4L1364.8 462.4L1364.9 459.4L1365.0 456.4L1365.2 453.4L1365.3 450.4L1365.4 447.4L1365.6 444.4L1365.7 441.4L1365.9 438.4L1366.0 435.4L1366.1 432.4L1366.3 429.4L1366.4 426.4L1366.6 423.4L1366.8 420.4L1366.9 417.4L1367.1 414.4L1367.3 411.5L1367.5 408.5L1367.6 405.5L1367.8 402.5L1368.1 399.5L1368.3 396.5L1368.5 393.5L1368.7 390.5L1368.9 387.5L1369.1 384.5L1369.3 381.5L1369.5 378.5L1369.7 375.5L1369.9 372.5L1370.1 369.5L1370.2 366.5L1370.4 363.5L1370.6 360.5L1370.8 357.5L1370.9 354.5L1371.1 351.5L1371.3 348.6L1371.5 345.6L1371.7 342.6L1371.8 339.6L1372.0 336.6L1372.2 333.6L1372.4 330.6L1372.6 327.6L1372.8 324.6L1373.1 321.6L1373.3 318.6L1373.5 315.6L1373.7 312.6L1374.0 309.6L1374.2 306.6L1374.4 303.6L1374.7 300.6L1374.9 297.7L1375.1 294.7L1375.4 291.7L1375.6 288.7L1375.8 285.7L1376.0 282.7L1376.3 279.7L1376.5 276.7L1376.7 273.7L1376.9 270.7L1377.1 267.7L1377.3 264.7L1377.6 261.7L1377.8 258.7L1378.0 255.7L1378.2 252.8L1378.4 249.8L1378.7 246.8L1378.9 243.8L1379.1 240.8L1379.3 237.8L1379.6 234.8L1379.8 231.8L1380.1 228.8L1380.3 225.8L1380.6 222.8L1380.8 219.8L1381.1 216.9L1381.3 213.9L1381.6 210.9L1381.8 207.9L1382.1 204.9L1382.3 201.9L1382.5 198.9L1382.7 195.9L1383.0 192.9L1383.2 189.9L1383.5 186.9L1383.8 183.9L1384.1 181.0L1384.4 178.0L1384.7 175.0L1385.1 172.0L1385.4 169.0L1385.8 166.1L1386.2 163.1L1386.7 160.1L1387.2 157.2L1387.7 154.2L1388.2 151.2L1388.7 148.3L1389.1 145.3L1389.4 142.3L1389.7 139.3L1390.1 136.4L1390.6 133.3L1391.6 130.7L1393.9 128.0L1396.7 125.7L1399.2 124.3L1400.7 124.4L1401.8 126.3L1402.6 129.5L1403.4 133.2L1404.2 136.8L1405.2 139.8L1406.2 142.6L1407.3 145.5L1408.1 148.3L1408.7 151.2L1409.1 154.2L1409.5 157.2L1409.9 160.2L1410.3 163.1L1410.7 166.1L1411.2 169.1L1411.6 172.1L1412.0 175.0L1412.5 178.0L1412.9 181.0L1413.4 183.9L1413.8 186.9L1414.3 189.9L1414.8 192.8L1415.2 195.8L1415.7 198.8L1416.1 201.7L1416.5 204.7L1416.9 207.7L1417.4 210.6L1417.8 213.6L1418.3 216.6L1418.9 219.5L1419.5 222.5L1420.1 225.4L1420.7 228.3L1421.2 231.3L1421.7 234.3L1422.2 237.2L1422.6 240.2L1423.1 243.2L1423.5 246.1L1423.9 249.1L1424.3 252.1L1424.7 255.0L1425.1 258.0L1425.6 261.0L1426.0 264.0L1426.4 266.9L1426.9 269.9L1427.3 272.9L1427.8 275.8L1428.3 278.8L1428.8 281.7L1429.3 284.7L1429.9 287.7L1430.4 290.6L1430.9 293.6L1431.4 296.5L1431.9 299.5L1432.4 302.5L1432.8 305.4L1433.3 308.4L1433.7 311.4L1434.1 314.3L1434.5 317.3L1434.9 320.3L1435.3 323.3L1435.7 326.2L1436.1 329.2L1436.5 332.2L1436.9 335.2L1437.3 338.1L1437.7 341.1L1438.1 344.1L1438.5 347.1L1438.9 350.0L1439.3 353.0L1439.7 356.0L1440.1 359.0L1440.5 361.9L1440.9 364.9L1441.4 367.9L1441.8 370.8L1442.3 373.8L1442.8 376.8L1443.3 379.7L1443.8 382.7L1444.4 385.6L1444.9 388.6L1445.4 391.5L1446.0 394.5L1446.5 397.4L1447.1 400.4L1447.6 403.4L1448.1 406.3L1448.5 409.3L1449.0 412.2L1449.4 415.2L1449.9 418.2L1450.4 421.2L1450.8 424.1L1451.3 427.1L1451.8 430.0L1452.3 433.0L1452.9 435.9L1453.5 438.9L1454.1 441.8L1454.8 444.7L1455.5 447.6L1456.3 450.5L1457.0 453.4L1457.8 456.3L1458.6 459.3L1459.4 462.2L1460.1 465.1L1460.8 468.0L1461.5 470.9L1462.2 473.8L1462.9 476.8L1463.5 479.7L1464.2 482.6L1464.9 485.5L1465.5 488.5L1466.2 491.4L1466.8 494.3L1467.5 497.2L1468.2 500.2L1468.9 503.1L1469.6 506.0L1470.3 508.9L1471.0 511.8L1471.7 514.8L1472.3 517.7L1473.0 520.6L1473.7 523.5L1474.3 526.5L1475.0 529.4L1475.6 532.3L1476.2 535.3L1476.8 538.2L1477.4 541.2L1478.0 544.1L1478.6 547.0L1479.2 550.0L1479.8 552.9L1480.3 555.9L1480.9 558.8L1481.4 561.8L1482.0 564.7L1482.5 567.7L1483.0 570.6L1483.5 573.6L1484.0 576.6L1484.5 579.5L1485.0 582.5L1485.4 585.5L1485.9 588.4L1486.4 591.4L1486.9 594.3L1487.4 597.3L1487.9 600.2L1488.5 603.2L1489.0 606.2L1489.6 609.1L1490.2 612.0L1490.8 615.0L1491.4 617.9L1492.0 620.9L1492.5 623.8L1493.1 626.8L1493.6 629.7L1494.1 632.7L1494.6 635.7L1495.0 638.6L1495.5 641.6L1495.9 644.6L1496.3 647.5L1496.8 650.5L1497.2 653.5L1497.6 656.4L1498.0 659.4L1498.4 662.4L1498.9 665.4L1499.3 668.3L1499.8 671.3L1500.3 674.3L1500.7 677.2L1501.2 680.2L1501.7 683.1L1502.2 686.1L1502.7 689.1L1503.2 692.0L1503.7 695.0L1504.2 697.9L1504.7 700.9L1505.2 703.9L1505.7 706.8L1506.1 709.8L1506.6 712.8L1507.0 715.7L1507.5 718.7L1507.9 721.7L1508.4 724.6L1508.8 727.6L1509.2 730.6L1509.7 733.5L1510.1 736.5L1510.5 739.5L1511.0 742.4L1511.4 745.4L1511.8 748.4L1512.2 751.4L1512.7 754.3L1513.1 757.3L1513.5 760.3L1513.9 763.3L1514.3 766.2L1514.7 769.2L1515.1 772.2L1515.5 775.1L1515.9 778.1L1516.3 781.1L1516.7 784.1L1517.1 787.0L1517.5 790.0L1517.9 793.0L1518.3 796.0L1518.7 798.9L1519.1 801.9L1519.5 804.9L1519.9 807.9L1520.3 810.9L1520.7 813.8L1521.1 816.8L1521.5 819.8L1521.9 822.7L1522.3 825.7L1522.8 828.7L1523.2 831.6L1523.7 834.6L1524.2 837.6L1524.7 840.5L1525.1 843.5L1525.6 846.5L1526.2 849.4L1526.7 852.4L1527.2 855.3L1527.7 858.3L1528.2 861.3L1528.7 864.2L1529.2 867.2L1529.7 870.1L1530.2 873.1L1530.7 876.1L1531.2 879.0L1531.8 882.0L1532.3 884.9L1532.8 887.9L1533.4 890.8L1534.0 893.8L1534.6 896.7L1535.3 899.6L1536.0 902.5L1536.7 905.4L1537.4 908.4L1538.1 911.3L1538.9 914.2L1539.7 917.1L1540.4 920.0L1541.2 922.9L1541.9 925.8L1542.6 928.7L1543.3 931.6L1544.0 934.6L1544.7 937.5L1545.3 940.4L1546.0 943.3L1546.7 946.3L1547.3 949.2L1548.0 952.1L1548.7 955.0L1549.4 958.0L1550.1 960.9L1550.9 963.8L1551.6 966.7L1552.5 969.6L1553.4 972.4L1554.2 975.3L1555.0 978.2L1555.8 981.1L1556.5 984.0L1557.2 986.9L1557.9 989.9L1558.5 992.8L1559.1 995.7L1559.7 998.7L1560.3 1001.6L1560.9 1004.6L1561.4 1007.5L1561.9 1010.5L1562.4 1013.4L1563.0 1016.4L1563.5 1019.3L1564.1 1022.3L1564.8 1025.2L1565.4 1028.2L1566.0 1031.1L1566.7 1034.0L1567.3 1036.9L1568.0 1039.9L1568.6 1042.8L1569.3 1045.7L1570.0 1048.7L1570.6 1051.6L1571.3 1054.5L1572.0 1057.4L1572.6 1060.4L1573.3 1063.3L1574.0 1066.2L1574.7 1069.1L1575.4 1072.1L1576.0 1075.0L1576.7 1077.9L1577.4 1080.8L1578.1 1083.7L1578.8 1086.7L1579.5 1089.6L1580.1 1092.5L1580.8 1095.4L1581.5 1098.4L1582.1 1101.3L1582.7 1104.2L1583.4 1107.2L1584.0 1110.1L1584.7 1113.0L1585.4 1116.0L1586.1 1118.9L1586.8 1121.8L1587.6 1124.7L1588.4 1127.6L1589.2 1130.5L1590.0 1133.3L1590.9 1136.2L1591.8 1139.1L1592.7 1142.0L1593.6 1144.8L1594.6 1147.7L1595.5 1150.5L1596.5 1153.3L1597.6 1156.1L1598.6 1158.9L1599.8 1161.7L1600.9 1164.5L1602.1 1167.3L1603.3 1170.0L1604.4 1172.8L1605.6 1175.6L1606.7 1178.3L1607.8 1181.1L1608.9 1183.9L1610.0 1186.7L1611.0 1189.6L1612.0 1192.4L1613.1 1195.2L1614.1 1198.0L1615.2 1200.8L1616.2 1203.6L1617.3 1206.4L1618.4 1209.2L1619.4 1212.0L1620.5 1214.8L1621.6 1217.6L1622.7 1220.4L1623.9 1223.2L1625.0 1226.0L1626.2 1228.8L1627.3 1231.5L1628.6 1234.3L1629.8 1237.0L1631.1 1239.7L1632.5 1242.3L1633.9 1245.0L1635.3 1247.6L1636.7 1250.3L1638.0 1253.0L1639.3 1255.7L1640.4 1258.5L1641.5 1261.3L1642.5 1264.1L1643.5 1267.0L1644.5 1269.8L1645.5 1272.6L1646.4 1275.5L1648.8 1277.5L1651.2 1279.6L1653.5 1281.7L1655.7 1283.9L1657.9 1286.1L1660.1 1288.3L1662.2 1290.6L1664.3 1293.0L1666.4 1295.3L1668.3 1297.8L1670.2 1300.2L1672.2 1302.7L1674.2 1305.1L1676.3 1307.4L1678.5 1309.7L1680.3 1312.2L1681.7 1314.9L1683.0 1317.8L1684.2 1320.8L1685.5 1323.6L1686.9 1326.4L1689.7 1324.2L1692.4 1323.1L1695.1 1322.8L1697.7 1323.9L1700.3 1325.9L1702.6 1327.9L1704.7 1330.0L1706.7 1332.3L1708.6 1334.7L1710.4 1337.1L1712.1 1339.5L1713.8 1342.0L1715.5 1344.5L1717.3 1346.9L1719.2 1349.2L1721.0 1345.8L1723.0 1343.4L1725.3 1342.4L1728.0 1342.7L1731.1 1343.6L1734.0 1344.7L1736.6 1346.0L1739.1 1347.7L1741.7 1349.4L1744.3 1350.9L1747.0 1352.3L1749.7 1353.7L1752.4 1354.9L1755.2 1356.0L1758.0 1357.0L1760.9 1357.9L1763.8 1358.8L1766.8 1359.6L1769.7 1360.1L1772.7 1360.3L1775.7 1360.0L1778.7 1359.3L1781.5 1358.4L1784.2 1357.3L1786.7 1355.6L1789.1 1353.6L1791.3 1351.6L1793.4 1349.4L1795.3 1347.1L1797.0 1344.6L1798.8 1342.1L1800.4 1339.6L1801.9 1337.0L1803.4 1334.4L1804.8 1331.7L1806.1 1329.0L1807.5 1326.3L1808.8 1323.6L1810.1 1320.9L1811.4 1318.2L1812.6 1315.5L1813.8 1312.7L1815.1 1310.0L1816.3 1307.2L1817.5 1304.5L1818.7 1301.7L1820.0 1299.0L1821.2 1296.2L1822.3 1293.4L1823.6 1290.7L1824.8 1287.9L1826.2 1285.3L1827.6 1282.7L1829.1 1280.0L1830.7 1277.3L1832.3 1274.7L1834.1 1272.3L1836.0 1270.1L1838.1 1268.1L1840.5 1266.4L1843.2 1264.8L1845.9 1263.4L1848.7 1262.4L1851.7 1261.6L1854.7 1260.9L1857.5 1260.0L1860.1 1258.7L1862.5 1257.0L1864.9 1255.0L1867.1 1252.7L1869.0 1250.4L1870.6 1248.1L1872.1 1245.5L1873.5 1242.8L1874.8 1240.0L1876.0 1237.2L1877.1 1234.4L1878.3 1231.6L1879.4 1228.8L1880.5 1226.0L1881.5 1223.2L1882.5 1220.4L1883.5 1217.5L1884.4 1214.7L1885.4 1211.8L1886.4 1209.0L1887.4 1206.1L1888.5 1203.3L1889.5 1200.5L1890.5 1197.7L1891.5 1194.8L1892.5 1192.0L1893.6 1189.2L1894.6 1186.4L1895.7 1183.6L1896.8 1180.8L1897.9 1177.9L1898.9 1175.0L1900.0 1172.0L1901.1 1169.1L1902.3 1166.2L1903.6 1163.6L1905.0 1161.1L1906.7 1158.9L1908.8 1156.6L1911.4 1154.4L1914.1 1152.7L1916.6 1151.9L1919.1 1152.5L1921.7 1154.3L1924.2 1156.7L1926.2 1159.2L1927.6 1161.5L1929.0 1164.0L1930.1 1166.8L1931.2 1169.7L1932.2 1172.6L1933.1 1175.6L1934.0 1178.6L1935.0 1181.5L1935.9 1184.3L1936.8 1187.2L1937.7 1190.1L1938.5 1192.9L1939.4 1195.8L1940.2 1198.7L1941.0 1201.6L1941.8 1204.5L1942.5 1207.4L1943.3 1210.3L1944.1 1213.2L1944.8 1216.1L1945.6 1219.1L1946.3 1222.0L1947.0 1224.9L1947.7 1227.8L1948.4 1230.7L1949.1 1233.7L1949.8 1236.6L1950.5 1239.5L1951.3 1242.4L1952.0 1245.3L1952.7 1248.3L1953.4 1251.2L1954.1 1254.1L1954.8 1257.0L1955.6 1259.9L1956.3 1262.8L1957.1 1265.7L1957.9 1268.6L1958.8 1271.5L1959.6 1274.4L1960.5 1277.3L1961.4 1280.2L1962.3 1283.0L1963.2 1285.9L1964.2 1288.7L1965.2 1291.6L1966.3 1294.4L1967.3 1297.2L1968.5 1299.9L1969.7 1302.7L1970.9 1305.5L1972.2 1308.2L1973.5 1310.9L1974.8 1313.6L1976.2 1316.2L1977.7 1318.8L1979.2 1321.4L1980.8 1324.0L1982.4 1326.6L1984.1 1329.1L1985.8 1331.5L1987.6 1333.9L1989.4 1336.3L1991.3 1338.7L1993.2 1341.0L1995.2 1343.3L1997.2 1345.5L1999.2 1347.7L2001.2 1350.0L2003.3 1352.2L2005.3 1354.4L2007.5 1356.6L2009.6 1358.7L2011.9 1360.5L2014.3 1362.3L2016.9 1364.0L2019.5 1365.5L2022.2 1366.7L2025.1 1367.8L2028.0 1368.7L2030.9 1369.1L2033.8 1368.6L2036.7 1367.3L2039.3 1366.0L2041.7 1364.3L2044.0 1362.3L2046.1 1360.1L2048.2 1357.8L2050.2 1355.5L2052.1 1353.2L2053.8 1350.7L2055.6 1348.3L2057.3 1345.8L2059.2 1343.4L2061.2 1341.2L2063.3 1339.0L2065.3 1336.7L2067.2 1334.4L2068.8 1332.0L2070.3 1329.4L2071.7 1326.7L2072.9 1323.9L2074.1 1321.1L2075.2 1318.4L2076.2 1315.6L2077.2 1312.7L2078.1 1309.8L2079.0 1307.0L2079.9 1304.1L2080.8 1301.2L2081.6 1298.3L2082.5 1295.4L2083.3 1292.6L2084.1 1289.7L2084.9 1286.8L2085.8 1283.9L2086.6 1281.0L2087.4 1278.1L2088.2 1275.2L2089.0 1272.3L2089.8 1269.4L2090.6 1266.5L2091.4 1263.6L2092.3 1260.7L2093.1 1257.8L2093.9 1254.9L2094.8 1252.1L2095.6 1249.2L2096.5 1246.3L2097.3 1243.4L2098.1 1240.5L2098.9 1237.6L2099.6 1234.7L2100.3 1231.8L2101.0 1228.9L2101.7 1225.9L2102.3 1223.0L2103.0 1220.1L2103.6 1217.1L2104.2 1214.2L2104.8 1211.2L2105.5 1208.3L2106.1 1205.4L2106.8 1202.4L2107.4 1199.5L2108.1 1196.6L2108.8 1193.6L2109.4 1190.7L2110.1 1187.8L2110.8 1184.8L2111.5 1181.9L2112.2 1179.0L2112.9 1176.1L2113.6 1173.1L2114.3 1170.2L2115.0 1167.3L2115.8 1164.4L2116.6 1161.5L2117.4 1158.6L2118.2 1155.7L2119.1 1152.9L2120.1 1150.0L2121.0 1147.2L2122.0 1144.3L2123.1 1141.5L2124.1 1138.7L2125.2 1135.9L2126.2 1133.1L2127.3 1130.3L2128.3 1127.4L2129.4 1124.6L2130.4 1121.8L2131.4 1119.0L2132.5 1116.1L2133.5 1113.3L2134.5 1110.5L2135.6 1107.7L2136.6 1104.8L2137.6 1102.0L2138.6 1099.2L2139.6 1096.3L2140.6 1093.5L2141.5 1090.7L2142.4 1087.8L2143.3 1084.9L2144.2 1082.0L2145.0 1079.2L2145.9 1076.3L2146.7 1073.4L2147.5 1070.5L2148.3 1067.6L2149.1 1064.7L2149.9 1061.8L2150.7 1058.9L2151.5 1056.0L2152.2 1053.1L2153.0 1050.2L2153.7 1047.3L2154.5 1044.4L2155.2 1041.4L2156.0 1038.5L2156.7 1035.6L2157.4 1032.7L2158.1 1029.8L2158.8 1026.9L2159.5 1023.9L2160.3 1021.0L2160.9 1018.1L2161.6 1015.2L2162.3 1012.2L2162.9 1009.3L2163.6 1006.4L2164.3 1003.4L2164.9 1000.5L2165.6 997.6L2166.3 994.6L2167.0 991.7L2167.7 988.8L2168.4 985.9L2169.1 983.0L2169.8 980.0L2170.6 977.1L2171.3 974.2L2172.1 971.3L2172.8 968.4L2173.6 965.5L2174.4 962.6L2175.3 959.7L2176.2 956.9L2177.1 954.0L2178.0 951.1L2179.0 948.2L2180.0 945.3L2181.1 942.5L2182.3 939.7L2183.6 937.1L2185.0 934.5L2186.6 931.9L2188.5 929.4L2190.7 927.3L2193.1 925.7L2196.0 924.4L2198.6 924.1L2201.0 925.7L2203.1 928.3L2204.9 931.1L2206.5 933.5L2207.9 936.1L2209.2 938.9L2210.4 941.7L2211.5 944.5L2212.6 947.3L2213.8 950.1L2214.8 952.9L2215.9 955.7L2216.9 958.6L2217.9 961.4L2218.9 964.3L2219.8 967.1L2220.8 970.0L2221.7 972.8L2222.6 975.7L2223.5 978.6L2224.5 981.4L2225.4 984.3L2226.3 987.2L2227.1 990.1L2227.9 993.0L2228.6 995.9L2229.2 998.8L2229.8 1001.7L2230.3 1004.7L2230.8 1007.7L2231.4 1010.6L2232.0 1013.6L2232.6 1016.5L2233.3 1019.4L2234.0 1022.4L2234.7 1025.3L2235.4 1028.2L2236.2 1031.1L2237.0 1034.0"/>
<path id="recovered" stroke="#ff0000" d="M162.0 1462.8L165.0 1463.3L168.0 1463.7L171.0 1464.0L174.0 1464.3L177.0 1464.5L179.9 1464.7L182.9 1464.7L185.9 1464.6L188.9 1464.4L191.9 1464.1L194.9 1463.7L197.9 1463.3L200.8 1462.8L203.8 1462.3L206.8 1461.9L209.8 1461.5L212.8 1461.1L215.8 1460.8L218.8 1460.6L221.7 1460.6L224.7 1460.7L227.7 1460.8L230.7 1461.0L233.7 1461.3L236.7 1461.6L239.7 1461.9L242.7 1462.2L245.7 1462.5L248.7 1462.8L251.7 1463.0L254.7 1463.2L257.7 1463.3L260.7 1463.3L263.7 1463.3L266.7 1463.2L269.7 1463.2L272.7 1463.1L275.7 1463.1L278.7 1463.0L281.7 1462.9L284.7 1462.8L287.7 1462.7L290.7 1462.6L293.7 1462.5L296.7 1462.5L299.7 1462.4L302.7 1462.3L305.7 1462.3L308.7 1462.2L311.7 1462.2L314.7 1462.2L317.7 1462.3L320.7 1462.5L323.7 1462.8L326.7 1463.1L329.7 1463.4L332.7 1463.8L335.7 1464.0L338.7 1464.2L341.7 1464.2L344.7 1464.2L347.7 1464.1L350.7 1464.0L353.7 1463.9L356.7 1463.8L359.7 1463.7L362.7 1463.6L365.7 1463.5L368.7 1463.4L371.7 1463.3L374.7 1463.3L377.7 1463.3L380.7 1463.4L383.7 1463.7L386.7 1464.0L389.6 1464.5L392.6 1464.9L395.6 1465.3L398.6 1465.8L401.6 1466.1L404.6 1466.4L407.6 1466.6L410.5 1466.6L413.5 1466.5L416.5 1466.4L419.5 1466.2L422.5 1466.0L425.5 1465.7L428.5 1465.4L431.5 1465.0L434.5 1464.7L437.5 1464.3L440.4 1463.9L443.4 1463.5L446.4 1463.1L449.4 1462.7L452.4 1462.4L455.4 1462.1L458.4 1461.8L461.4 1461.5L464.4 1461.3L467.4 1461.2L470.4 1461.1L473.4 1461.1L476.3 1461.3L479.3 1461.6L482.3 1461.9L485.3 1462.3L488.3 1462.7L491.3 1463.0L494.3 1463.2L497.3 1463.3L500.3 1463.3L503.3 1463.2L506.3 1463.1L509.3 1463.1L512.3 1462.9L515.3 1462.8L518.3 1462.7L521.3 1462.6L524.3 1462.5L527.3 1462.4L530.3 1462.3L533.3 1462.2L536.3 1462.2L539.3 1462.2L542.3 1462.3L545.3 1462.4L548.3 1462.5L551.3 1462.7L554.3 1462.9L557.3 1463.1L560.3 1463.3L563.3 1463.5L566.3 1463.8L569.3 1464.0L572.3 1464.2L575.3 1464.4L578.3 1464.5L581.3 1464.6L584.3 1464.7L587.3 1464.7L590.3 1464.7L593.3 1464.7L596.3 1464.7L599.3 1464.7L602.3 1464.7L605.3 1464.7L608.3 1464.7L611.3 1464.7L614.3 1464.7L617.3 1464.7L620.3 1464.7L623.3 1464.7L626.3 1464.7L629.3 1464.7L632.3 1464.6L635.3 1464.6L638.3 1464.5L641.3 1464.4L644.3 1464.4L647.3 1464.3L650.3 1464.1L653.3 1464.0L656.3 1463.9L659.3 1463.8L662.3 1463.7L665.3 1463.6L668.3 1463.4L671.3 1463.3L674.3 1463.2L677.3 1463.1L680.3 1463.0L683.3 1463.0L686.3 1462.9L689.3 1462.8L692.3 1462.8L695.3 1462.8L698.3 1462.8L701.3 1462.8L704.3 1462.9L707.4 1462.9L710.4 1463.0L713.4 1463.1L716.4 1463.2L719.4 1463.3L722.4 1463.4L725.4 1463.5L728.4 1463.6L731.4 1463.7L734.4 1463.8L737.4 1463.9L740.4 1464.0L743.4 1464.1L746.4 1464.1L749.4 1464.2L752.4 1464.2L755.4 1464.2L758.4 1464.2L761.4 1464.1L764.4 1464.0L767.4 1463.8L770.4 1463.7L773.4 1463.6L776.4 1463.5L779.4 1463.4L782.4 1463.4L785.4 1463.5L788.4 1463.6L791.4 1463.8L794.4 1464.1L797.4 1464.4L800.4 1464.7L803.4 1465.0L806.4 1465.2L809.3 1465.4L812.3 1465.6L815.3 1465.6L818.3 1465.6L821.3 1465.6L824.3 1465.5L827.3 1465.5L830.3 1465.4L833.3 1465.3L836.3 1465.2L839.3 1465.1L842.4 1465.0L845.4 1464.9L848.4 1464.8L851.4 1464.7L854.4 1464.6L857.4 1464.5L860.4 1464.5L863.4 1464.4L866.4 1464.3L869.4 1464.3L872.4 1464.2L875.4 1464.2L878.4 1464.2L881.4 1464.2L884.4 1464.3L887.4 1464.5L890.4 1464.6L893.4 1464.8L896.4 1465.0L899.4 1465.1L902.4 1465.3L905.4 1465.4L908.4 1465.5L911.4 1465.6L914.4 1465.6L917.4 1465.5L920.4 1465.3L923.4 1465.1L926.4 1464.9L929.4 1464.7L932.4 1464.5L935.4 1464.3L938.4 1464.2L941.4 1464.2L944.4 1464.2L947.4 1464.3L950.4 1464.4L953.4 1464.5L956.4 1464.7L959.4 1464.8L962.4 1465.0L965.4 1465.1L968.4 1465.3L971.4 1465.4L974.4 1465.5L977.4 1465.6L980.4 1465.6L983.4 1465.6L986.4 1465.5L989.4 1465.4L992.4 1465.3L995.4 1465.1L998.4 1464.9L1001.4 1464.6L1004.3 1464.3L1007.3 1464.0L1010.3 1463.7L1013.3 1463.4L1016.3 1463.1L1019.3 1462.8L1022.3 1462.5L1025.3 1462.2L1028.3 1461.9L1031.3 1461.7L1034.3 1461.4L1037.2 1461.1L1040.2 1460.8L1043.2 1460.5L1046.2 1460.1L1049.2 1459.8L1052.2 1459.5L1055.2 1459.2L1058.1 1458.8L1061.1 1458.5L1064.1 1458.1L1067.1 1457.8L1070.1 1457.4L1073.1 1457.1L1076.0 1456.7L1079.0 1456.4L1082.0 1456.0L1085.0 1455.7L1088.0 1455.3L1090.9 1455.0L1093.9 1454.6L1096.9 1454.3L1099.9 1453.9L1102.9 1453.5L1105.8 1453.2L1108.8 1452.8L1111.8 1452.4L1114.8 1452.1L1117.8 1451.7L1120.7 1451.3L1123.7 1450.9L1126.7 1450.5L1129.7 1450.2L1132.7 1449.8L1135.6 1449.4L1138.6 1449.0L1141.6 1448.6L1144.6 1448.2L1147.6 1447.8L1150.5 1447.4L1153.5 1447.0L1156.5 1446.6L1159.5 1446.2L1162.5 1445.8L1165.5 1445.4L1168.4 1445.0L1171.4 1444.5L1174.4 1444.1L1177.3 1443.6L1180.3 1443.1L1183.2 1442.6L1186.2 1442.0L1189.1 1441.5L1192.0 1440.9L1195.0 1440.2L1197.9 1439.5L1200.8 1438.7L1203.7 1437.9L1206.6 1437.0L1209.4 1436.1L1212.3 1435.1L1215.1 1434.1L1217.9 1433.1L1220.7 1432.0L1223.5 1430.9L1226.3 1429.7L1229.1 1428.5L1231.9 1427.2L1234.6 1425.9L1237.3 1424.5L1239.9 1423.0L1242.5 1421.5L1244.9 1419.9L1247.4 1418.3L1249.8 1416.5L1252.1 1414.6L1254.5 1412.7L1256.7 1410.6L1258.9 1408.5L1261.1 1406.3L1263.1 1404.0L1265.0 1401.8L1266.8 1399.4L1268.5 1397.0L1270.1 1394.5L1271.6 1391.8L1273.0 1389.1L1274.4 1386.5L1275.8 1383.8L1277.1 1381.1L1278.4 1378.4L1279.7 1375.7L1280.9 1372.9L1282.1 1370.2L1283.3 1367.4L1284.4 1364.6L1285.5 1361.8L1286.6 1359.0L1287.6 1356.2L1288.6 1353.4L1289.6 1350.6L1290.6 1347.7L1291.5 1344.8L1292.5 1342.0L1293.3 1339.1L1294.2 1336.2L1295.0 1333.3L1295.7 1330.4L1296.5 1327.5L1297.1 1324.6L1297.8 1321.7L1298.4 1318.8L1299.1 1315.8L1299.6 1312.9L1300.2 1309.9L1300.8 1307.0L1301.3 1304.0L1301.9 1301.0L1302.4 1298.1L1302.9 1295.1L1303.4 1292.2L1303.9 1289.2L1304.4 1286.2L1304.9 1283.3L1305.4 1280.3L1305.9 1277.4L1306.3 1274.4L1306.8 1271.4L1307.2 1268.4L1307.7 1265.5L1308.1 1262.5L1308.6 1259.5L1309.0 1256.6L1309.4 1253.6L1309.9 1250.6L1310.3 1247.6L1310.7 1244.7L1311.2 1241.7L1311.6 1238.7L1312.1 1235.8L1312.5 1232.8L1313.0 1229.8L1313.4 1226.9L1313.9 1223.9L1314.3 1220.9L1314.8 1218.0L1315.2 1215.0L1315.7 1212.0L1316.1 1209.1L1316.6 1206.1L1317.0 1203.1L1317.4 1200.1L1317.9 1197.2L1318.3 1194.2L1318.7 1191.2L1319.1 1188.2L1319.5 1185.3L1319.9 1182.3L1320.3 1179.3L1320.7 1176.3L1321.0 1173.4L1321.4 1170.4L1321.8 1167.4L1322.2 1164.4L1322.5 1161.4L1322.9 1158.5L1323.2 1155.5L1323.6 1152.5L1324.0 1149.5L1324.3 1146.5L1324.7 1143.6L1325.1 1140.6L1325.5 1137.6L1325.8 1134.6L1326.2 1131.6L1326.6 1128.7L1326.9 1125.7L1327.3 1122.7L1327.7 1119.7L1328.0 1116.7L1328.4 1113.8L1328.8 1110.8L1329.1 1107.8L1329.5 1104.8L1329.9 1101.8L1330.2 1098.9L1330.6 1095.9L1331.0 1092.9L1331.4 1089.9L1331.8 1086.9L1332.1 1084.0L1332.5 1081.0L1332.9 1078.0L1333.3 1075.0L1333.7 1072.1L1334.1 1069.1L1334.5 1066.1L1334.9 1063.1L1335.3 1060.1L1335.6 1057.2L1336.0 1054.2L1336.3 1051.2L1336.6 1048.2L1336.9 1045.2L1337.2 1042.2L1337.5 1039.3L1337.8 1036.3L1338.1 1033.3L1338.4 1030.3L1338.7 1027.3L1338.9 1024.3L1339.2 1021.3L1339.4 1018.3L1339.7 1015.3L1339.9 1012.3L1340.2 1009.4L1340.5 1006.4L1340.7 1003.4L1341.0 1000.4L1341.2 997.4L1341.5 994.4L1341.7 991.4L1342.0 988.4L1342.2 985.4L1342.5 982.4L1342.7 979.4L1343.0 976.4L1343.3 973.5L1343.6 970.5L1343.9 967.5L1344.2 964.5L1344.5 961.5L1344.8 958.5L1345.1 955.5L1345.4 952.5L1345.7 949.6L1346.0 946.6L1346.4 943.6L1346.7 940.6L1347.0 937.6L1347.3 934.6L1347.6 931.6L1347.9 928.6L1348.2 925.7L1348.5 922.7L1348.8 919.7L1349.1 916.7L1349.4 913.7L1349.7 910.7L1350.0 907.7L1350.3 904.8L1350.6 901.8L1350.9 898.8L1351.2 895.8L1351.5 892.8L1351.7 889.8L1352.0 886.8L1352.3 883.8L1352.5 880.8L1352.7 877.8L1353.0 874.8L1353.2 871.9L1353.4 868.9L1353.7 865.9L1353.9 862.9L1354.1 859.9L1354.3 856.9L1354.5 853.9L1354.8 850.9L1355.0 847.9L1355.2 844.9L1355.4 841.9L1355.6 838.9L1355.9 835.9L1356.1 832.9L1356.3 829.9L1356.5 826.9L1356.8 823.9L1357.0 821.0L1357.2 818.0L1357.4 815.0L1357.7 812.0L1357.9 809.0L1358.1 806.0L1358.4 803.0L1358.6 800.0L1358.8 797.0L1359.0 794.0L1359.3 791.0L1359.5 788.0L1359.7 785.0L1359.9 782.0L1360.2 779.0L1360.4 776.0L1360.6 773.0L1360.9 770.1L1361.1 767.1L1361.3 764.1L1361.5 761.1L1361.8 758.1L1362.0 755.1L1362.2 752.1L1362.4 749.1L1362.7 746.1L1362.9 743.1L1363.1 740.1L1363.3 737.1L1363.5 734.1L1363.8 731.1L1364.0 728.1L1364.2 725.1L1364.4 722.1L1364.6 719.2L1364.9 716.2L1365.1 713.2L1365.3 710.2L1365.5 707.2L1365.7 704.2L1366.0 701.2L1366.2 698.2L1366.4 695.2L1366.6 692.2L1366.8 689.2L1367.1 686.2L1367.3 683.2L1367.5 680.2L1367.8 677.2L1368.0 674.2L1368.2 671.2L1368.4 668.3L1368.7 665.3L1368.9 662.3L1369.1 659.3L1369.3 656.3L1369.6 653.3L1369.8 650.3L1370.0 647.3L1370.2 644.3L1370.5 641.3L1370.7 638.3L1370.9 635.3L1371.1 632.3L1371.4 629.3L1371.6 626.3L1371.8 623.3L1372.0 620.3L1372.3 617.4L1372.5 614.4L1372.7 611.4L1373.0 608.4L1373.2 605.4L1373.4 602.4L1373.6 599.4L1373.9 596.4L1374.1 593.4L1374.4 590.4L1374.6 587.4L1374.8 584.4L1375.1 581.4L1375.3 578.4L1375.5 575.4L1375.8 572.5L1376.0 569.5L1376.3 566.5L1376.5 563.5L1376.8 560.5L1377.1 557.5L1377.3 554.5L1377.6 551.5L1377.9 548.5L1378.2 545.5L1378.5 542.6L1378.8 539.6L1379.1 536.6L1379.4 533.6L1379.8 530.6L1380.1 527.6L1380.4 524.6L1380.7 521.6L1381.0 518.7L1381.3 515.7L1381.5 512.7L1381.8 509.7L1382.1 506.7L1382.4 503.7L1382.7 500.7L1383.0 497.7L1383.3 494.7L1383.6 491.8L1383.9 488.8L1384.3 485.8L1384.7 482.8L1385.1 479.8L1385.5 476.9L1386.0 473.9L1386.5 470.9L1387.0 468.0L1387.4 465.0L1387.9 462.0L1388.3 459.0L1388.6 456.0L1388.9 452.9L1389.3 449.9L1389.8 447.0L1390.5 444.3L1392.1 441.8L1394.1 439.4L1395.8 436.7L1397.5 433.5L1399.1 431.2L1401.0 431.5L1403.0 433.9L1404.9 436.9L1406.6 439.5L1408.0 442.2L1409.2 444.9L1410.2 447.7L1411.1 450.6L1411.9 453.5L1412.7 456.4L1413.4 459.3L1414.1 462.3L1414.8 465.2L1415.4 468.1L1416.0 471.1L1416.6 474.0L1417.2 477.0L1417.7 479.9L1418.3 482.9L1418.8 485.8L1419.3 488.8L1419.8 491.7L1420.3 494.7L1420.8 497.7L1421.3 500.6L1421.7 503.6L1422.2 506.6L1422.7 509.5L1423.3 512.5L1423.8 515.4L1424.4 518.4L1425.1 521.3L1425.7 524.2L1426.4 527.1L1427.1 530.1L1427.8 533.0L1428.5 535.9L1429.1 538.8L1429.8 541.8L1430.4 544.7L1431.1 547.6L1431.7 550.6L1432.4 553.5L1433.0 556.4L1433.6 559.4L1434.2 562.3L1434.8 565.3L1435.4 568.2L1435.9 571.2L1436.3 574.1L1436.8 577.1L1437.2 580.1L1437.6 583.1L1438.0 586.0L1438.4 589.0L1438.9 592.0L1439.3 595.0L1439.8 597.9L1440.4 600.9L1441.0 603.8L1441.7 606.7L1442.5 609.6L1443.3 612.5L1444.1 615.4L1444.9 618.3L1445.6 621.2L1446.3 624.1L1446.9 627.1L1447.4 630.0L1448.0 633.0L1448.5 636.0L1449.0 638.9L1449.5 641.9L1450.0 644.9L1450.6 647.8L1451.2 650.7L1451.8 653.7L1452.5 656.6L1453.3 659.4L1454.2 662.3L1455.1 665.2L1456.1 668.0L1457.0 670.9L1458.0 673.7L1459.0 676.6L1460.0 679.4L1460.9 682.3L1461.9 685.1L1462.8 688.0L1463.8 690.8L1464.8 693.6L1465.7 696.5L1466.7 699.3L1467.7 702.2L1468.6 705.0L1469.5 707.9L1470.4 710.8L1471.3 713.6L1472.1 716.5L1473.0 719.4L1473.8 722.3L1474.7 725.1L1475.5 728.0L1476.3 730.9L1477.1 733.8L1477.9 736.7L1478.7 739.6L1479.4 742.5L1480.1 745.4L1480.8 748.4L1481.5 751.3L1482.2 754.2L1482.8 757.1L1483.4 760.1L1484.1 763.0L1484.7 766.0L1485.3 768.9L1485.9 771.8L1486.6 774.8L1487.2 777.7L1487.8 780.6L1488.5 783.6L1489.1 786.5L1489.7 789.4L1490.4 792.4L1491.0 795.3L1491.7 798.2L1492.3 801.2L1493.0 804.1L1493.6 807.0L1494.2 810.0L1494.9 812.9L1495.5 815.8L1496.2 818.8L1496.8 821.7L1497.4 824.6L1498.1 827.6L1498.7 830.5L1499.4 833.4L1500.1 836.4L1500.7 839.3L1501.3 842.2L1502.0 845.2L1502.6 848.1L1503.2 851.0L1503.9 854.0L1504.5 856.9L1505.1 859.9L1505.6 862.8L1506.2 865.8L1506.8 868.7L1507.3 871.7L1507.9 874.6L1508.4 877.6L1509.0 880.5L1509.5 883.5L1510.1 886.4L1510.6 889.4L1511.2 892.3L1511.7 895.3L1512.3 898.2L1512.8 901.2L1513.4 904.1L1513.9 907.1L1514.5 910.0L1515.0 913.0L1515.6 915.9L1516.1 918.9L1516.7 921.8L1517.2 924.8L1517.8 927.7L1518.3 930.7L1518.9 933.6L1519.4 936.6L1520.0 939.5L1520.5 942.5L1521.1 945.4L1521.6 948.4L1522.2 951.4L1522.7 954.3L1523.3 957.3L1523.8 960.2L1524.4 963.2L1525.0 966.1L1525.5 969.0L1526.1 972.0L1526.7 974.9L1527.3 977.9L1527.8 980.8L1528.4 983.8L1529.0 986.7L1529.6 989.7L1530.2 992.6L1530.9 995.6L1531.5 998.5L1532.2 1001.4L1533.0 1004.3L1533.8 1007.2L1534.7 1010.1L1535.5 1012.9L1536.4 1015.8L1537.3 1018.7L1538.1 1021.6L1539.0 1024.4L1539.9 1027.3L1540.8 1030.2L1541.7 1033.0L1542.7 1035.9L1543.6 1038.7L1544.5 1041.6L1545.4 1044.5L1546.3 1047.3L1547.2 1050.2L1548.1 1053.1L1548.9 1055.9L1549.8 1058.8L1550.6 1061.7L1551.4 1064.6L1552.2 1067.5L1553.0 1070.4L1553.8 1073.3L1554.6 1076.2L1555.4 1079.1L1556.2 1082.0L1557.0 1084.9L1557.8 1087.7L1558.6 1090.6L1559.4 1093.5L1560.3 1096.4L1561.1 1099.3L1561.9 1102.2L1562.8 1105.1L1563.6 1107.9L1564.5 1110.8L1565.3 1113.7L1566.2 1116.6L1567.1 1119.5L1567.9 1122.3L1568.8 1125.2L1569.7 1128.1L1570.5 1130.9L1571.4 1133.8L1572.3 1136.7L1573.1 1139.6L1574.0 1142.5L1574.8 1145.3L1575.7 1148.2L1576.5 1151.1L1577.3 1154.0L1578.2 1156.9L1579.1 1159.7L1579.9 1162.6L1580.8 1165.5L1581.7 1168.4L1582.6 1171.2L1583.6 1174.1L1584.5 1176.9L1585.4 1179.8L1586.4 1182.6L1587.3 1185.5L1588.3 1188.3L1589.3 1191.2L1590.3 1194.0L1591.3 1196.8L1592.4 1199.6L1593.5 1202.4L1594.6 1205.2L1595.8 1207.9L1597.0 1210.7L1598.3 1213.4L1599.5 1216.1L1600.8 1218.9L1602.1 1221.6L1603.4 1224.3L1604.7 1227.0L1606.0 1229.7L1607.4 1232.4L1608.8 1235.0L1610.2 1237.7L1611.6 1240.4L1612.9 1243.0L1614.2 1245.7L1615.5 1248.5L1616.6 1251.2L1617.6 1254.1L1618.7 1256.9L1619.8 1259.7L1621.2 1262.3L1622.7 1264.9L1624.2 1267.5L1625.9 1270.0L1627.5 1272.5L1629.1 1275.1L1630.8 1277.6L1632.4 1280.1L1634.1 1282.6L1635.8 1285.1L1637.5 1287.6L1639.2 1290.0L1641.0 1292.4L1642.8 1294.9L1644.5 1297.4L1646.0 1299.9L1647.3 1302.6L1648.5 1305.3L1649.7 1308.1L1650.9 1310.9L1652.2 1313.6L1653.4 1316.4L1654.6 1319.1L1657.8 1319.3L1660.9 1319.9L1663.7 1320.8L1666.5 1322.4L1669.0 1324.2L1671.3 1326.3L1673.5 1328.6L1675.6 1331.0L1677.7 1333.3L1679.7 1335.7L1681.7 1338.1L1683.7 1340.5L1685.5 1343.0L1687.4 1345.5L1690.6 1345.6L1693.6 1345.7L1696.4 1346.0L1698.9 1347.1L1701.1 1349.4L1703.4 1351.6L1706.0 1353.2L1708.7 1354.6L1711.3 1356.0L1713.7 1357.9L1715.8 1360.1L1718.0 1362.3L1720.4 1363.8L1723.2 1364.8L1726.2 1365.5L1729.1 1366.4L1731.7 1367.9L1734.1 1369.6L1736.7 1371.2L1739.5 1372.3L1742.3 1373.4L1745.0 1374.7L1747.7 1376.0L1750.4 1377.4L1753.2 1378.6L1756.0 1379.7L1758.8 1380.9L1761.7 1382.0L1764.5 1383.0L1767.5 1383.9L1770.4 1384.4L1773.3 1384.6L1776.4 1384.3L1779.4 1383.6L1782.1 1382.7L1784.4 1381.3L1786.6 1379.1L1788.6 1376.6L1790.6 1374.1L1792.7 1371.9L1794.7 1369.8L1796.8 1367.6L1798.9 1365.3L1800.9 1363.1L1802.9 1360.8L1804.9 1358.5L1806.7 1356.2L1808.5 1353.8L1810.2 1351.3L1811.7 1348.8L1813.1 1346.2L1814.5 1343.5L1815.9 1340.8L1817.3 1338.1L1818.8 1335.5L1820.2 1332.7L1821.6 1329.9L1823.0 1327.2L1824.5 1324.6L1826.2 1322.2L1828.2 1320.2L1830.5 1318.3L1833.1 1316.6L1835.9 1315.3L1838.6 1314.2L1841.5 1313.3L1844.5 1312.7L1847.5 1312.5L1850.6 1312.5L1853.7 1312.5L1856.8 1312.4L1859.8 1312.4L1862.6 1312.3L1865.4 1312.0L1868.0 1310.5L1870.5 1308.4L1872.7 1306.2L1874.6 1304.1L1876.3 1301.6L1877.8 1299.0L1879.3 1296.3L1880.7 1293.5L1882.1 1290.8L1883.4 1288.2L1884.7 1285.5L1886.0 1282.7L1887.2 1280.0L1888.4 1277.2L1889.6 1274.5L1890.8 1271.7L1892.0 1268.9L1893.3 1266.2L1894.6 1263.5L1895.8 1260.7L1897.1 1257.9L1898.3 1255.2L1899.7 1252.5L1901.0 1249.8L1902.5 1247.2L1904.1 1244.7L1905.9 1242.2L1907.8 1239.7L1909.9 1237.6L1912.4 1236.2L1915.3 1235.0L1918.2 1234.5L1921.1 1235.1L1924.0 1236.6L1926.5 1238.4L1928.5 1240.2L1930.2 1242.4L1931.8 1245.0L1933.1 1247.8L1934.4 1250.7L1935.6 1253.7L1936.8 1256.5L1938.0 1259.3L1939.2 1262.0L1940.2 1264.8L1941.3 1267.7L1942.3 1270.5L1943.2 1273.4L1944.2 1276.2L1945.2 1279.1L1946.2 1281.9L1947.2 1284.7L1948.2 1287.6L1949.3 1290.4L1950.3 1293.2L1951.3 1296.1L1952.3 1298.9L1953.3 1301.7L1954.3 1304.5L1955.4 1307.4L1956.5 1310.2L1957.5 1313.0L1958.6 1315.8L1959.6 1318.6L1960.7 1321.4L1961.8 1324.2L1963.0 1327.0L1964.1 1329.8L1965.3 1332.5L1966.6 1335.2L1967.9 1337.9L1969.3 1340.6L1970.7 1343.3L1972.2 1345.9L1973.7 1348.6L1975.2 1351.1L1976.9 1353.7L1978.5 1356.1L1980.3 1358.6L1982.1 1360.9L1984.0 1363.3L1985.9 1365.6L1987.9 1367.9L1989.9 1370.2L1991.8 1372.4L1993.8 1374.7L1995.9 1377.0L1998.0 1379.1L2000.2 1381.1L2002.5 1383.0L2004.9 1384.8L2007.4 1386.6L2010.0 1388.2L2012.6 1389.6L2015.3 1391.0L2018.0 1392.3L2020.8 1393.4L2023.7 1394.1L2026.7 1394.5L2029.7 1394.9L2032.7 1395.0L2035.6 1394.4L2038.4 1393.1L2041.0 1391.5L2043.5 1389.9L2045.8 1388.0L2047.9 1385.9L2050.0 1383.7L2052.2 1381.4L2054.4 1379.4L2056.7 1377.4L2059.0 1375.5L2061.4 1373.6L2063.7 1371.6L2065.8 1369.5L2067.7 1367.3L2069.5 1364.9L2071.2 1362.4L2072.8 1359.8L2074.3 1357.2L2075.9 1354.6L2077.3 1352.0L2078.7 1349.3L2080.1 1346.7L2081.4 1343.9L2082.7 1341.2L2084.0 1338.5L2085.1 1335.7L2086.3 1332.9L2087.3 1330.1L2088.4 1327.3L2089.5 1324.5L2090.6 1321.7L2091.7 1318.9L2092.9 1316.1L2094.0 1313.3L2095.0 1310.5L2096.1 1307.7L2097.2 1304.9L2098.2 1302.1L2099.3 1299.3L2100.3 1296.5L2101.3 1293.6L2102.3 1290.8L2103.2 1287.9L2104.1 1285.0L2105.0 1282.2L2105.9 1279.3L2106.7 1276.4L2107.6 1273.5L2108.5 1270.7L2109.3 1267.8L2110.2 1264.9L2111.1 1262.0L2111.9 1259.1L2112.8 1256.3L2113.7 1253.4L2114.7 1250.6L2115.7 1247.7L2116.7 1244.9L2117.8 1242.1L2118.8 1239.3L2119.9 1236.5L2121.1 1233.7L2122.2 1230.9L2123.4 1228.1L2124.6 1225.4L2125.9 1222.7L2127.2 1220.0L2128.5 1217.2L2129.7 1214.5L2130.9 1211.7L2132.1 1209.0L2133.2 1206.2L2134.4 1203.4L2135.5 1200.6L2136.6 1197.8L2137.8 1195.1L2138.9 1192.3L2140.1 1189.5L2141.3 1186.7L2142.4 1183.9L2143.6 1181.2L2144.7 1178.4L2145.7 1175.6L2146.8 1172.7L2147.7 1169.9L2148.7 1167.0L2149.5 1164.2L2150.4 1161.3L2151.3 1158.4L2152.1 1155.5L2153.0 1152.6L2153.8 1149.7L2154.7 1146.9L2155.5 1144.0L2156.5 1141.1L2157.4 1138.3L2158.3 1135.4L2159.2 1132.5L2160.2 1129.7L2161.1 1126.8L2162.1 1124.0L2163.0 1121.1L2164.0 1118.3L2165.0 1115.4L2165.9 1112.6L2166.9 1109.7L2167.9 1106.9L2168.8 1104.0L2169.8 1101.2L2170.8 1098.3L2171.8 1095.5L2172.8 1092.7L2173.9 1089.9L2175.0 1087.1L2176.1 1084.3L2177.2 1081.5L2178.4 1078.7L2179.6 1075.9L2180.9 1073.2L2182.3 1070.6L2183.8 1067.9L2185.4 1065.2L2187.2 1062.5L2189.1 1060.3L2191.3 1058.7L2194.1 1057.3L2197.0 1056.7L2199.7 1057.7L2202.3 1059.7L2204.5 1061.7L2206.4 1063.8L2208.2 1066.3L2209.8 1068.9L2211.4 1071.6L2212.8 1074.3L2214.2 1076.9L2215.5 1079.6L2216.8 1082.4L2218.0 1085.1L2219.1 1087.9L2220.3 1090.7L2221.4 1093.5L2222.5 1096.3L2223.6 1099.1L2224.7 1101.9L2225.7 1104.7L2226.8 1107.6L2227.8 1110.4L2228.8 1113.2L2229.7 1116.1L2230.6 1118.9L2231.6 1121.8L2232.5 1124.7L2233.4 1127.5L2234.3 1130.4L2235.2 1133.3L2236.1 1136.1L2237.0 1139.0"/>
</g>
<line id="marker" x1="1728.8" y1="946" x2="1728.8" y2="1508" stroke="#9600ff" stroke-width="6" stroke-dasharray="28 25.3"/>
<g id="label-arrows">
<line x1="1186.2" y1="277.0" x2="1342.0" y2="277.0" stroke="#9600ff" stroke-width="4.00"/><polygon points="1368.5,277.0 1329.5,296.2 1341.0,277.0 1329.5,257.8" fill="#9600ff" stroke="#9600ff" stroke-width="3.0" stroke-linejoin="round"/>
<line x1="1195.5" y1="487.6" x2="1352.2" y2="487.6" stroke="#9600ff" stroke-width="4.00"/><polygon points="1378.7,487.6 1339.7,506.8 1351.2,487.6 1339.7,468.4" fill="#9600ff" stroke="#9600ff" stroke-width="3.0" stroke-linejoin="round"/>
<line x1="1211.0" y1="744.0" x2="1366.3" y2="744.0" stroke="#9600ff" stroke-width="4.00"/><polygon points="1392.8,744.0 1353.8,763.2 1365.3,744.0 1353.8,724.8" fill="#9600ff" stroke="#9600ff" stroke-width="3.0" stroke-linejoin="round"/>
</g>
<g id="peak-arrows">
<line x1="1805.0" y1="1134.0" x2="1720.4" y2="1294.5" stroke="#000" stroke-width="2.50"/><polygon points="1707.8,1318.4 1717.7,1280.7 1720.9,1293.6 1733.3,1288.9" fill="#000" stroke="#000" stroke-width="1.2" stroke-linejoin="round"/>
<line x1="1582.6" y1="1384.8" x2="1624.1" y2="1339.0" stroke="#000" stroke-width="2.70"/><polygon points="1642.2,1319.0 1623.2,1353.1 1623.4,1339.8 1610.2,1341.3" fill="#000" stroke="#000" stroke-width="1.2" stroke-linejoin="round"/>
<line x1="1687.6" y1="1462.5" x2="1686.7" y2="1386.3" stroke="#000" stroke-width="3.00"/><polygon points="1686.4,1359.3 1695.6,1397.2 1686.7,1387.3 1678.0,1397.4" fill="#000" stroke="#000" stroke-width="1.2" stroke-linejoin="round"/>
</g>
<g id="labels">
<text transform="translate(161.0 1650.6) scale(1 1.020)" font-size="74.6" text-anchor="middle">2000</text>
<text transform="translate(575.2 1650.6) scale(1 1.020)" font-size="74.6" text-anchor="middle">1900</text>
<text transform="translate(989.0 1650.6) scale(1 1.020)" font-size="74.6" text-anchor="middle">1800</text>
<text transform="translate(1402.5 1650.6) scale(1 1.020)" font-size="74.6" text-anchor="middle">1700</text>
<text transform="translate(1816.6 1650.6) scale(1 1.020)" font-size="74.6" text-anchor="middle">1600</text>
<text transform="translate(2230.4 1650.6) scale(1 1.020)" font-size="74.6" text-anchor="middle">1500</text>
<text class="b" x="874.6" y="1749.2" font-size="78">Wavenumber (cm<tspan font-size="46" dy="-43.7">-1</tspan><tspan dy="43.7">)</tspan></text>
<text class="b" transform="translate(91.3 1010) rotate(-90)" font-size="80">Absorbance</text>
<text class="b" x="711.5" y="305.9" font-size="77">Programmed</text>
<text class="b" x="768.5" y="511.7" font-size="77" letter-spacing="0.5">Recovered</text>
<text class="b" x="904" y="776" font-size="77">Original</text>
<text transform="translate(1658.2 924.8) scale(1 1.020)" font-size="74">1629</text>
<text transform="translate(1779.9 1124.6) scale(1 1.020)" font-size="74">1636</text>
<text transform="translate(1415.8 1427.9) scale(1 1.020)" font-size="74">1645</text>
<text transform="translate(1547.8 1528.7) scale(1 1.020)" font-size="74">1638</text>
</g>
</svg>
</body></html>
